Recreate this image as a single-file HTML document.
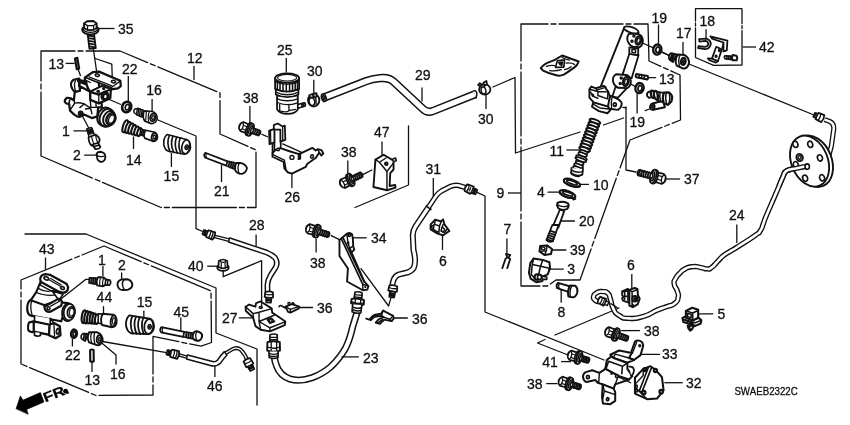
<!DOCTYPE html>
<html><head><meta charset="utf-8"><title>Clutch master cylinder diagram</title>
<style>
html,body{margin:0;padding:0;background:#fff;}
svg{display:block;}
svg *{vector-effect:non-scaling-stroke}
text{font-family:"Liberation Sans",sans-serif;fill:#111;stroke:#111;stroke-width:0.3px;}
</style></head><body>
<svg width="850" height="425" viewBox="0 0 850 425">
<defs><filter id="nf" x="0" y="0" width="850" height="425" filterUnits="userSpaceOnUse"><feOffset dx="0" dy="0"/></filter></defs>
<rect width="850" height="425" fill="#fff"/>
<polyline points="41,156 41,51 120,51 220,93 220,134 256,150 256,207.5 161,207.5 41,156" fill="none" stroke="#111" stroke-width="1.30" stroke-linejoin="round" stroke-linecap="round" stroke-dasharray="64 3 5 3"/>
<polyline points="158,120 196,136 196,228.6 204,232" fill="none" stroke="#111" stroke-width="1.30" stroke-linejoin="round" stroke-linecap="round"/>
<polyline points="25,234 86,234 216,288 216,333 257,349 257,405" fill="none" stroke="#111" stroke-width="1.30" stroke-linejoin="round" stroke-linecap="round"/>
<polyline points="21,364 21,280 104,246 211,291 211.5,342.5 201.1,346.2 153,336.4 153,395 96,395.5 21,364" fill="none" stroke="#111" stroke-width="1.30" stroke-linejoin="round" stroke-linecap="round" stroke-dasharray="64 3 5 3"/>
<polyline points="408.5,126 408.5,185 355,207.5" fill="none" stroke="#111" stroke-width="1.30" stroke-linejoin="round" stroke-linecap="round"/>
<polyline points="493,87 515,77.5 515.5,153 580,132" fill="none" stroke="#111" stroke-width="1.30" stroke-linejoin="round" stroke-linecap="round"/>
<polyline points="603.5,125 623.5,118" fill="none" stroke="#111" stroke-width="1.30" stroke-linejoin="round" stroke-linecap="round"/>
<polyline points="521,286 521,24 648,24 649,61 680,75 680.5,120 630,140 580,280 556,280 547.5,286 521,286" fill="none" stroke="#111" stroke-width="1.30" stroke-linejoin="round" stroke-linecap="round" stroke-dasharray="64 3 5 3"/>
<line x1="508" y1="193" x2="521" y2="193" stroke="#111" stroke-width="1.30"/>
<polyline points="626,107 626,170 636,172" fill="none" stroke="#111" stroke-width="1.30" stroke-linejoin="round" stroke-linecap="round"/>
<polyline points="695.5,8.7 742,8.7 742,65 713.6,65.3 695.5,57.5 695.5,8.7" fill="none" stroke="#111" stroke-width="1.30" stroke-linejoin="round" stroke-linecap="round" stroke-dasharray="61.5 2 3 2 111.9 2 3 2 30"/>
<line x1="742.7" y1="47" x2="756" y2="47" stroke="#111" stroke-width="1.30"/>
<line x1="689" y1="64" x2="814" y2="115" stroke="#111" stroke-width="1.30"/>
<polyline points="477,192.4 485,196 485,312 604,360" fill="none" stroke="#111" stroke-width="1.30" stroke-linejoin="round" stroke-linecap="round"/>
<polyline points="619,308 555,335" fill="none" stroke="#111" stroke-width="1.30" stroke-linejoin="round" stroke-linecap="round"/>
<polyline points="545,339.5 537.5,343 568,355" fill="none" stroke="#111" stroke-width="1.30" stroke-linejoin="round" stroke-linecap="round"/>
<g transform="translate(90.2,20.6)">
<polygon points="-2.6,13 3.8,13 5.6,27.6 -0.8,28.2" fill="#fff" stroke="#111" stroke-width="1.77" stroke-linejoin="round" stroke-linecap="round"/>
<line x1="-2.5119999999999996" y1="14.9" x2="4.288" y2="15.9" stroke="#111" stroke-width="1.77"/>
<line x1="-2.1879999999999997" y1="17.6" x2="4.612" y2="18.6" stroke="#111" stroke-width="1.77"/>
<line x1="-1.8639999999999999" y1="20.3" x2="4.936" y2="21.3" stroke="#111" stroke-width="1.77"/>
<line x1="-1.5399999999999998" y1="23.0" x2="5.26" y2="24.0" stroke="#111" stroke-width="1.77"/>
<line x1="-1.2159999999999995" y1="25.700000000000003" x2="5.5840000000000005" y2="26.700000000000003" stroke="#111" stroke-width="1.77"/>
<ellipse cx="0.2" cy="9.2" rx="8.3" ry="4.6" fill="#fff" stroke="#111" stroke-width="1.89" transform="rotate(0 0.2 9.2)"/>
<ellipse cx="0.2" cy="8.2" rx="7.2" ry="3.6" fill="#fff" stroke="#111" stroke-width="1.30" transform="rotate(0 0.2 8.2)"/>
<path d="M-6,7.6 L-6.2,3 L-3,0.6 L3.2,0.4 L6.4,2.8 L6.4,7.6 Q0.2,11.6 -6,7.6 Z" fill="#fff" stroke="#111" stroke-width="1.89" stroke-linejoin="round" stroke-linecap="round" />
<path d="M-6.2,3 L-2.6,5 L3.4,5 L6.4,2.8 M-2.6,5 L-2.8,9.6 M3.4,5 L3.4,9.6" fill="none" stroke="#111" stroke-width="1.30" stroke-linejoin="round" stroke-linecap="round" />
</g>
<line x1="98.8" y1="28.5" x2="114.5" y2="28.5" stroke="#111" stroke-width="1.30"/>
<polyline points="93.2,48 97,74" fill="none" stroke="#111" stroke-width="1.30" stroke-linejoin="round" stroke-linecap="round"/>
<polyline points="95.3,58.5 111.8,64.2 112.3,79" fill="none" stroke="#111" stroke-width="1.30" stroke-linejoin="round" stroke-linecap="round"/>
<path d="M74.9,58.5 L77.4,57.8 L79.2,68.6 L76.7,69.3 Z" fill="#777" stroke="#111" stroke-width="2.01" stroke-linejoin="round" stroke-linecap="round" />
<line x1="65.7" y1="63.4" x2="74.7" y2="63.4" stroke="#111" stroke-width="1.30"/>
<line x1="78" y1="69" x2="80.6" y2="76" stroke="#111" stroke-width="1.30"/>
<g transform="translate(55,65) scale(0.14113)">
<ellipse cx="352" cy="366" rx="50" ry="66" fill="#fff" stroke="#111" stroke-width="2.01" transform="rotate(22 352 366)"/>
<ellipse cx="368" cy="374" rx="50" ry="65" fill="#fff" stroke="#111" stroke-width="2.01" transform="rotate(22 368 374)"/>
<ellipse cx="384" cy="380" rx="41" ry="55" fill="#fff" stroke="#111" stroke-width="2.01" transform="rotate(22 384 380)"/>
<ellipse cx="396" cy="383" rx="30" ry="42" fill="#fff" stroke="#111" stroke-width="2.48" transform="rotate(22 396 383)"/>
<ellipse cx="400" cy="384" rx="19" ry="30" fill="#fff" stroke="#111" stroke-width="1.30" transform="rotate(22 400 384)"/>
<path d="M140,190 L134,250 L112,236 L86,232 Q66,244 70,262 Q78,278 100,274 L106,322 Q130,350 156,364 Q184,374 206,350 L262,376 L300,364 L306,300 L332,300 L330,270 L250,246 L250,190 L176,150 L176,182 Z" fill="#fff" stroke="#111" stroke-width="2.24" stroke-linejoin="round" stroke-linecap="round" />
<path d="M112,236 Q98,254 100,274 M134,250 L140,270 L106,322 M140,270 Q170,262 206,276 M250,246 L254,300 L306,300 M290,272 L292,300" fill="none" stroke="#111" stroke-width="1.42" stroke-linejoin="round" stroke-linecap="round" />
<path d="M176,302 L206,276 L252,306 L262,346 M216,312 L252,306" fill="none" stroke="#111" stroke-width="1.42" stroke-linejoin="round" stroke-linecap="round" />
<ellipse cx="182" cy="343" rx="14" ry="14" fill="#fff" stroke="#111" stroke-width="1.89" transform="rotate(0 182 343)"/>
<ellipse cx="182" cy="343" rx="6" ry="6" fill="#fff" stroke="#111" stroke-width="1.30" transform="rotate(0 182 343)"/>
<path d="M172,96 L132,104 Q110,120 114,146 Q120,176 142,190 L176,182 Z" fill="#fff" stroke="#111" stroke-width="2.12" stroke-linejoin="round" stroke-linecap="round" />
<path d="M146,108 Q130,140 146,186" fill="none" stroke="#111" stroke-width="1.30" stroke-linejoin="round" stroke-linecap="round" />
<path d="M213,88 L270,50 L312,47 L463,112 L466,150 L446,166 L396,172 L330,150 L250,190 L236,170 L210,106 Z" fill="#fff" stroke="#111" stroke-width="2.24" stroke-linejoin="round" stroke-linecap="round" />
<path d="M213,88 L330,136 L400,160 L463,114 M210,104 L250,124" fill="none" stroke="#111" stroke-width="1.30" stroke-linejoin="round" stroke-linecap="round" />
<path d="M226,92 L392,156 M240,84 L404,148" fill="none" stroke="#111" stroke-width="1.18" stroke-linejoin="round" stroke-linecap="round" />
<path d="M170,112 L216,128" fill="none" stroke="#111" stroke-width="4.25" stroke-linejoin="round" stroke-linecap="round" />
<path d="M170,112 L168,150" fill="none" stroke="#111" stroke-width="1.53" stroke-linejoin="round" stroke-linecap="round" />
<ellipse cx="300" cy="72" rx="15" ry="9" fill="#fff" stroke="#111" stroke-width="1.53" transform="rotate(8 300 72)"/>
<ellipse cx="415" cy="118" rx="15" ry="9" fill="#fff" stroke="#111" stroke-width="1.53" transform="rotate(8 415 118)"/>
<path d="M310,124 L314,168" fill="none" stroke="#111" stroke-width="2.24" stroke-linejoin="round" stroke-linecap="round" />
<ellipse cx="306" cy="186" rx="7" ry="6" fill="#fff" stroke="#111" stroke-width="1.53" transform="rotate(0 306 186)"/>
<ellipse cx="345" cy="166" rx="6" ry="5" fill="#fff" stroke="#111" stroke-width="1.53" transform="rotate(0 345 166)"/>
<path d="M250,190 L310,210 L396,170 L392,236 L310,272 L250,246 Z" fill="#fff" stroke="#111" stroke-width="2.24" stroke-linejoin="round" stroke-linecap="round" />
<path d="M250,190 L330,150 L396,170" fill="#fff" stroke="#111" stroke-width="1.77" stroke-linejoin="round" stroke-linecap="round" />
<path d="M310,210 L310,272" fill="none" stroke="#111" stroke-width="1.30" stroke-linejoin="round" stroke-linecap="round" />
<ellipse cx="306" cy="186" rx="7" ry="6" fill="#fff" stroke="#111" stroke-width="1.53" transform="rotate(0 306 186)"/>
<ellipse cx="345" cy="168" rx="6" ry="5" fill="#fff" stroke="#111" stroke-width="1.53" transform="rotate(0 345 168)"/>
<ellipse cx="355" cy="222" rx="26" ry="29" fill="#fff" stroke="#111" stroke-width="1.89" transform="rotate(20 355 222)"/>
<ellipse cx="357" cy="223" rx="16" ry="19" fill="#fff" stroke="#111" stroke-width="2.12" transform="rotate(20 357 223)"/>
</g>
<line x1="128.3" y1="76" x2="128.3" y2="101" stroke="#111" stroke-width="1.30"/>
<line x1="108" y1="99" x2="121" y2="104.5" stroke="#111" stroke-width="1.30"/>
<ellipse cx="126.7" cy="107" rx="4.5" ry="5.3" fill="#fff" stroke="#111" stroke-width="2.60" transform="rotate(20 126.7 107)"/>
<ellipse cx="127.3" cy="107.2" rx="2.0" ry="2.8" fill="#fff" stroke="#111" stroke-width="1.65" transform="rotate(20 127.3 107.2)"/>
<g transform="translate(120,95) scale(0.16462)">
<path d="M92,84 Q80,92 86,108 L104,120 L112,84 Z" fill="#fff" stroke="#111" stroke-width="1.42" stroke-linejoin="round" stroke-linecap="round" />
<path d="M106,80 L142,92 L136,134 L100,120 Z" fill="#fff" stroke="#111" stroke-width="1.42" stroke-linejoin="round" stroke-linecap="round" />
<path d="M114,84 L108,122 M124,86 L118,128 M134,90 L128,132" fill="none" stroke="#111" stroke-width="1.42" stroke-linejoin="round" stroke-linecap="round" />
<path d="M146,96 L196,100 Q228,112 226,146 Q214,176 190,174 L152,160 Q134,140 146,96 Z" fill="#fff" stroke="#111" stroke-width="1.65" stroke-linejoin="round" stroke-linecap="round" />
<path d="M160,100 L156,160 M178,100 Q166,130 176,168" fill="none" stroke="#111" stroke-width="1.18" stroke-linejoin="round" stroke-linecap="round" />
<ellipse cx="200" cy="136" rx="17" ry="23" fill="#fff" stroke="#111" stroke-width="1.77" transform="rotate(15 200 136)"/>
<ellipse cx="201" cy="137" rx="8" ry="12" fill="#fff" stroke="#111" stroke-width="1.42" transform="rotate(15 201 137)"/>
<ellipse cx="32" cy="190" rx="14.0" ry="38.0" fill="#fff" stroke="#111" stroke-width="2.01" transform="rotate(18 32 190)"/>
<ellipse cx="49" cy="197" rx="13.4" ry="35.5" fill="#fff" stroke="#111" stroke-width="2.01" transform="rotate(18 49 197)"/>
<ellipse cx="66" cy="204" rx="12.8" ry="33.0" fill="#fff" stroke="#111" stroke-width="2.01" transform="rotate(18 66 204)"/>
<ellipse cx="83" cy="211" rx="12.2" ry="30.5" fill="#fff" stroke="#111" stroke-width="2.01" transform="rotate(18 83 211)"/>
<ellipse cx="100" cy="218" rx="11.6" ry="28.0" fill="#fff" stroke="#111" stroke-width="2.01" transform="rotate(18 100 218)"/>
<ellipse cx="117" cy="225" rx="11.0" ry="25.5" fill="#fff" stroke="#111" stroke-width="2.01" transform="rotate(18 117 225)"/>
<path d="M126,206 L152,214 L148,250 L122,240 Z" fill="#fff" stroke="#111" stroke-width="1.42" stroke-linejoin="round" stroke-linecap="round" />
<path d="M134,210 L130,244 M143,212 L139,248" fill="none" stroke="#111" stroke-width="1.42" stroke-linejoin="round" stroke-linecap="round" />
<path d="M156,214 L212,226 Q232,240 226,268 Q214,286 196,280 L150,262 Q140,240 156,214 Z" fill="#fff" stroke="#111" stroke-width="1.65" stroke-linejoin="round" stroke-linecap="round" />
<ellipse cx="207" cy="254" rx="15" ry="24" fill="#fff" stroke="#111" stroke-width="1.77" transform="rotate(15 207 254)"/>
<ellipse cx="208" cy="255" rx="7" ry="12" fill="#fff" stroke="#111" stroke-width="1.30" transform="rotate(15 208 255)"/>
<path d="M286,240 Q262,262 266,300 Q272,336 296,342 L392,360 Q424,352 428,318 Q428,280 404,270 Z" fill="#fff" stroke="#111" stroke-width="1.65" stroke-linejoin="round" stroke-linecap="round" />
<path d="M300,246 Q280,290 304,344 M322,250 Q302,296 326,348 M344,256 Q326,300 348,352 M366,260 Q348,306 370,356" fill="none" stroke="#111" stroke-width="1.65" stroke-linejoin="round" stroke-linecap="round" />
<ellipse cx="400" cy="315" rx="24" ry="42" fill="#fff" stroke="#111" stroke-width="1.65" transform="rotate(10 400 315)"/>
<ellipse cx="405" cy="317" rx="10" ry="14" fill="#fff" stroke="#111" stroke-width="1.42" transform="rotate(10 405 317)"/>
<ellipse cx="405" cy="317" rx="4" ry="6" fill="#fff" stroke="#111" stroke-width="1.18" transform="rotate(10 405 317)"/>
</g>
<line x1="152.1" y1="99" x2="152.1" y2="111.5" stroke="#111" stroke-width="1.30"/>
<line x1="133.5" y1="136.5" x2="133.5" y2="149" stroke="#111" stroke-width="1.30"/>
<line x1="171.4" y1="153" x2="171.4" y2="167" stroke="#111" stroke-width="1.30"/>
<g transform="translate(55,105) scale(0.16462)">
<path d="M160,55 L205,140" fill="none" stroke="#111" stroke-width="1.30" stroke-linejoin="round" stroke-linecap="round" />
<path d="M192,146 L222,136 L240,186 L208,196 Z" fill="#fff" stroke="#111" stroke-width="1.42" stroke-linejoin="round" stroke-linecap="round" />
<path d="M196,156 L226,146 M200,166 L230,156 M204,176 L234,168" fill="none" stroke="#111" stroke-width="1.89" stroke-linejoin="round" stroke-linecap="round" />
<path d="M204,196 L246,180 Q268,192 272,214 L262,236 L222,246 Q204,230 204,196 Z" fill="#fff" stroke="#111" stroke-width="1.77" stroke-linejoin="round" stroke-linecap="round" />
<path d="M222,192 Q226,220 240,240 M246,182 Q250,210 262,234" fill="none" stroke="#111" stroke-width="1.18" stroke-linejoin="round" stroke-linecap="round" />
<path d="M226,240 L262,230 L276,256 Q268,270 246,268 Z" fill="#fff" stroke="#111" stroke-width="1.77" stroke-linejoin="round" stroke-linecap="round" />
<path d="M234,252 L270,244" fill="none" stroke="#111" stroke-width="1.65" stroke-linejoin="round" stroke-linecap="round" />
<path d="M115,157 L190,157" fill="none" stroke="#111" stroke-width="1.30" stroke-linejoin="round" stroke-linecap="round" />
<path d="M252,300 Q256,284 280,284 Q304,288 306,312 Q306,340 286,346 Q266,346 258,330 Z" fill="#fff" stroke="#111" stroke-width="1.77" stroke-linejoin="round" stroke-linecap="round" />
<path d="M252,300 Q262,318 290,312 Q304,310 306,312" fill="none" stroke="#111" stroke-width="1.18" stroke-linejoin="round" stroke-linecap="round" />
<path d="M180,305 L250,305" fill="none" stroke="#111" stroke-width="1.30" stroke-linejoin="round" stroke-linecap="round" />
</g>
<g transform="translate(250.6,129.8) rotate(21) scale(1.0)">
<path d="M-2.6,-4.4 L-9.6,-4.7 Q-12.4,-2.4 -12,0.6 Q-11.4,3.8 -9,4.8 L-2.4,4.4 Z" fill="#fff" stroke="#111" stroke-width="1.77" stroke-linejoin="round" stroke-linecap="round" />
<path d="M-9.8,-1.7 L-3.4,-1.4 M-9.6,2.0 L-3.3,2.1" fill="none" stroke="#111" stroke-width="1.18" stroke-linejoin="round" stroke-linecap="round" />
<ellipse cx="-9.9" cy="0.1" rx="1.7" ry="3.7" fill="#fff" stroke="#111" stroke-width="1.30" transform="rotate(0 -9.9 0.1)"/>
<ellipse cx="-1.7" cy="0" rx="2.7" ry="6.5" fill="#fff" stroke="#111" stroke-width="1.77" transform="rotate(0 -1.7 0)"/>
<ellipse cx="-0.2" cy="0" rx="2.7" ry="6.5" fill="#fff" stroke="#111" stroke-width="1.77" transform="rotate(0 -0.2 0)"/>
<ellipse cx="0.4" cy="0" rx="1.7" ry="4.3" fill="#fff" stroke="#111" stroke-width="1.53" transform="rotate(0 0.4 0)"/>
<path d="M0.8,-2.5 L9.6,-2.5 Q11.2,0 9.6,2.5 L0.8,2.5 Q-0.4,0 0.8,-2.5 Z" fill="#fff" stroke="#111" stroke-width="1.65" stroke-linejoin="round" stroke-linecap="round" />
<path d="M2.1,-2.7 Q3.6,0 2.1,2.7" fill="none" stroke="#111" stroke-width="1.77" stroke-linejoin="round" stroke-linecap="round" />
<path d="M4.166666666666666,-2.7 Q5.666666666666666,0 4.166666666666666,2.7" fill="none" stroke="#111" stroke-width="1.77" stroke-linejoin="round" stroke-linecap="round" />
<path d="M6.2333333333333325,-2.7 Q7.7333333333333325,0 6.2333333333333325,2.7" fill="none" stroke="#111" stroke-width="1.77" stroke-linejoin="round" stroke-linecap="round" />
<path d="M8.299999999999999,-2.7 Q9.799999999999999,0 8.299999999999999,2.7" fill="none" stroke="#111" stroke-width="1.77" stroke-linejoin="round" stroke-linecap="round" />
</g>
<line x1="249.9" y1="106" x2="249.9" y2="123" stroke="#111" stroke-width="1.30"/>
<line x1="261.5" y1="134.2" x2="268" y2="137" stroke="#111" stroke-width="1.30"/>
<g transform="translate(196,110) scale(0.16462)">
<path d="M56,260 L192,312 L184,338 L54,288 Q44,272 56,260 Z" fill="#fff" stroke="#111" stroke-width="1.65" stroke-linejoin="round" stroke-linecap="round" />
<path d="M64,264 Q56,276 64,290" fill="none" stroke="#111" stroke-width="1.18" stroke-linejoin="round" stroke-linecap="round" />
<path d="M192,312 L240,322 L232,358 L184,338 Z" fill="#fff" stroke="#111" stroke-width="1.53" stroke-linejoin="round" stroke-linecap="round" />
<path d="M204,314 L198,344 M216,316 L210,350 M228,320 L222,354" fill="none" stroke="#111" stroke-width="1.77" stroke-linejoin="round" stroke-linecap="round" />
<path d="M246,322 Q232,340 238,366 Q252,390 280,388 Q306,380 310,352 Q300,326 272,322 Z" fill="#fff" stroke="#111" stroke-width="1.77" stroke-linejoin="round" stroke-linecap="round" />
<path d="M262,324 Q248,350 262,386" fill="none" stroke="#111" stroke-width="1.30" stroke-linejoin="round" stroke-linecap="round" />
</g>
<line x1="221.5" y1="165" x2="221.5" y2="182" stroke="#111" stroke-width="1.30"/>
<line x1="194" y1="66" x2="194" y2="80" stroke="#111" stroke-width="1.30"/>
<g transform="translate(20,262) scale(0.16462)">
<path d="M62,232 Q42,248 44,290 Q48,320 66,326 L250,360 L290,250 L200,240 Z" fill="#fff" stroke="#111" stroke-width="2.24" stroke-linejoin="round" stroke-linecap="round" />
<path d="M72,236 Q58,270 74,326" fill="none" stroke="#111" stroke-width="1.30" stroke-linejoin="round" stroke-linecap="round" />
<path d="M126,118 L98,184 L66,232 L150,262 L240,232 L226,180 L204,160 Z" fill="#fff" stroke="#111" stroke-width="2.12" stroke-linejoin="round" stroke-linecap="round" />
<path d="M98,184 Q150,210 226,200 M110,160 Q160,190 210,170" fill="none" stroke="#111" stroke-width="1.30" stroke-linejoin="round" stroke-linecap="round" />
<path d="M124,96 Q130,76 156,74 L182,78 L284,134 Q296,150 290,168 Q280,188 258,186 L236,180 L128,122 Q120,110 124,96 Z" fill="#fff" stroke="#111" stroke-width="2.24" stroke-linejoin="round" stroke-linecap="round" />
<path d="M128,122 L124,140 L230,196 L258,186" fill="none" stroke="#111" stroke-width="1.42" stroke-linejoin="round" stroke-linecap="round" />
<ellipse cx="160" cy="100" rx="15" ry="9" fill="#fff" stroke="#111" stroke-width="1.65" transform="rotate(25 160 100)"/>
<ellipse cx="258" cy="158" rx="12" ry="8" fill="#fff" stroke="#111" stroke-width="1.65" transform="rotate(25 258 158)"/>
<path d="M176,108 L244,146 M186,100 L250,138" fill="none" stroke="#111" stroke-width="1.18" stroke-linejoin="round" stroke-linecap="round" />
<path d="M196,176 L236,232 L262,196 Z" fill="#fff" stroke="#111" stroke-width="1.53" stroke-linejoin="round" stroke-linecap="round" />
<path d="M148,272 L232,224 Q256,226 254,250 L250,266 L184,302 Q152,306 148,272 Z" fill="#fff" stroke="#111" stroke-width="2.24" stroke-linejoin="round" stroke-linecap="round" />
<ellipse cx="173" cy="281" rx="9" ry="9" fill="#fff" stroke="#111" stroke-width="1.65" transform="rotate(0 173 281)"/>
<path d="M186,268 L240,238" fill="none" stroke="#111" stroke-width="1.18" stroke-linejoin="round" stroke-linecap="round" />
<ellipse cx="292" cy="305" rx="36" ry="54" fill="#fff" stroke="#111" stroke-width="1.89" transform="rotate(8 292 305)"/>
<ellipse cx="300" cy="305" rx="34" ry="50" fill="#fff" stroke="#111" stroke-width="1.65" transform="rotate(8 300 305)"/>
<ellipse cx="310" cy="305" rx="22" ry="33" fill="#fff" stroke="#111" stroke-width="1.77" transform="rotate(8 310 305)"/>
<ellipse cx="314" cy="305" rx="14" ry="24" fill="#fff" stroke="#111" stroke-width="1.18" transform="rotate(8 314 305)"/>
</g>
<g transform="translate(20,300) scale(0.16462)">
<path d="M88,96 L88,132 L184,152 L184,112" fill="#fff" stroke="#111" stroke-width="1.65" stroke-linejoin="round" stroke-linecap="round" />
<path d="M56,136 Q46,150 50,182 Q56,198 84,194 L84,130 Z" fill="#fff" stroke="#111" stroke-width="2.12" stroke-linejoin="round" stroke-linecap="round" />
<path d="M84,130 L180,150 L180,212 L84,192 Z" fill="#fff" stroke="#111" stroke-width="2.12" stroke-linejoin="round" stroke-linecap="round" />
<path d="M88,194 L88,214 Q104,224 124,216 L124,200" fill="#fff" stroke="#111" stroke-width="1.65" stroke-linejoin="round" stroke-linecap="round" />
<path d="M180,150 L206,140 L242,160 L246,214 L216,232 L176,214 Z" fill="#fff" stroke="#111" stroke-width="2.24" stroke-linejoin="round" stroke-linecap="round" />
<path d="M206,140 L210,228" fill="none" stroke="#111" stroke-width="1.30" stroke-linejoin="round" stroke-linecap="round" />
<ellipse cx="230" cy="190" rx="9" ry="17" fill="#fff" stroke="#111" stroke-width="1.77" transform="rotate(8 230 190)"/>
<path d="M184,112 L206,140" fill="none" stroke="#111" stroke-width="1.42" stroke-linejoin="round" stroke-linecap="round" />
<ellipse cx="328" cy="205" rx="17" ry="25" fill="#fff" stroke="#111" stroke-width="2.60" transform="rotate(8 328 205)"/>
<ellipse cx="330" cy="206" rx="8" ry="14" fill="#fff" stroke="#111" stroke-width="1.65" transform="rotate(8 330 206)"/>
<path d="M382,204 Q366,214 374,236 L396,250 L414,206 Z" fill="#fff" stroke="#111" stroke-width="1.65" stroke-linejoin="round" stroke-linecap="round" />
<path d="M392,204 L384,240 M402,204 L394,246" fill="none" stroke="#111" stroke-width="1.53" stroke-linejoin="round" stroke-linecap="round" />
<path d="M420,196 L470,196 Q504,210 502,248 Q490,278 466,274 L420,258 Q404,230 420,196 Z" fill="#fff" stroke="#111" stroke-width="1.89" stroke-linejoin="round" stroke-linecap="round" />
<path d="M436,196 Q424,226 436,264 M454,196 Q444,230 456,270" fill="none" stroke="#111" stroke-width="1.30" stroke-linejoin="round" stroke-linecap="round" />
<ellipse cx="480" cy="238" rx="14" ry="24" fill="#fff" stroke="#111" stroke-width="1.77" transform="rotate(10 480 238)"/>
<ellipse cx="481" cy="239" rx="6" ry="11" fill="#fff" stroke="#111" stroke-width="1.30" transform="rotate(10 481 239)"/>
<path d="M426,304 Q436,298 447,304 L448,372 Q437,378 427,372 Z" fill="#fff" stroke="#111" stroke-width="2.12" stroke-linejoin="round" stroke-linecap="round" />
</g>
<line x1="72.4" y1="338.8" x2="72.4" y2="346.5" stroke="#111" stroke-width="1.30"/>
<line x1="92" y1="362" x2="92" y2="372" stroke="#111" stroke-width="1.30"/>
<polyline points="102.6,341.5 168,352.8" fill="none" stroke="#111" stroke-width="1.30" stroke-linejoin="round" stroke-linecap="round"/>
<polyline points="102.4,343.6 116,355 116,364" fill="none" stroke="#111" stroke-width="1.30" stroke-linejoin="round" stroke-linecap="round"/>
<polyline points="58.7,300.7 85.9,279.3 89.2,279.3" fill="none" stroke="#111" stroke-width="1.30" stroke-linejoin="round" stroke-linecap="round"/>
<g transform="translate(89.2,280.4) rotate(6)">
<path d="M0,-2.6 L8,-3 L8,3 L0,2.6 Z" fill="#fff" stroke="#111" stroke-width="1.65" stroke-linejoin="round" stroke-linecap="round" />
<path d="M2,-2.8 L2,2.8 M4,-2.9 L4,2.9 M6,-3 L6,3" fill="none" stroke="#111" stroke-width="1.77" stroke-linejoin="round" stroke-linecap="round" />
<path d="M8.4,-4.2 L14,-4.6 Q17,-3 17.4,0 Q17,3.6 14,4.6 L8.4,4.2 Q6.6,0 8.4,-4.2 Z" fill="#fff" stroke="#111" stroke-width="1.77" stroke-linejoin="round" stroke-linecap="round" />
<path d="M11,-4.4 Q10,0 11,4.4 M14,-4.6 Q13,0 14,4.6" fill="none" stroke="#111" stroke-width="1.18" stroke-linejoin="round" stroke-linecap="round" />
<path d="M16.4,-2.8 L20.6,-2.4 Q22.6,0 20.6,2.6 L16.4,3 Z" fill="#fff" stroke="#111" stroke-width="1.65" stroke-linejoin="round" stroke-linecap="round" />
<path d="M18.6,-2.6 L18.6,2.8" fill="none" stroke="#111" stroke-width="1.42" stroke-linejoin="round" stroke-linecap="round" />
</g>
<line x1="102.9" y1="266" x2="102.9" y2="276" stroke="#111" stroke-width="1.30"/>
<line x1="45.5" y1="257.5" x2="45.5" y2="269.6" stroke="#111" stroke-width="1.30"/>
<g transform="translate(78,268) scale(0.16462)">
<path d="M262,70 Q238,78 240,104 Q246,134 272,134 L304,132 Q330,122 330,100 Q326,72 298,68 Z" fill="#fff" stroke="#111" stroke-width="1.89" stroke-linejoin="round" stroke-linecap="round" />
<path d="M280,72 Q258,96 282,132" fill="none" stroke="#111" stroke-width="1.42" stroke-linejoin="round" stroke-linecap="round" />
<path d="M265,30 L265,66" fill="none" stroke="#111" stroke-width="1.30" stroke-linejoin="round" stroke-linecap="round" />
<ellipse cx="36" cy="296" rx="13" ry="40.0" fill="#fff" stroke="#111" stroke-width="2.12" transform="rotate(8 36 296)"/>
<ellipse cx="52" cy="299" rx="13" ry="37.8" fill="#fff" stroke="#111" stroke-width="2.12" transform="rotate(8 52 299)"/>
<ellipse cx="68" cy="302" rx="13" ry="35.6" fill="#fff" stroke="#111" stroke-width="2.12" transform="rotate(8 68 302)"/>
<ellipse cx="84" cy="305" rx="13" ry="33.4" fill="#fff" stroke="#111" stroke-width="2.12" transform="rotate(8 84 305)"/>
<ellipse cx="100" cy="308" rx="13" ry="31.2" fill="#fff" stroke="#111" stroke-width="2.12" transform="rotate(8 100 308)"/>
<ellipse cx="116" cy="311" rx="13" ry="29.0" fill="#fff" stroke="#111" stroke-width="2.12" transform="rotate(8 116 311)"/>
<path d="M124,278 L150,280 L146,340 L122,334 Z" fill="#fff" stroke="#111" stroke-width="1.53" stroke-linejoin="round" stroke-linecap="round" />
<path d="M150,278 L214,284 Q240,300 234,336 Q226,360 206,360 L146,346 Q132,312 150,278 Z" fill="#fff" stroke="#111" stroke-width="1.89" stroke-linejoin="round" stroke-linecap="round" />
<ellipse cx="215" cy="321" rx="16" ry="34" fill="#fff" stroke="#111" stroke-width="1.89" transform="rotate(8 215 321)"/>
<ellipse cx="217" cy="322" rx="8" ry="20" fill="#fff" stroke="#111" stroke-width="1.18" transform="rotate(8 217 322)"/>
<path d="M155,235 L155,278" fill="none" stroke="#111" stroke-width="1.30" stroke-linejoin="round" stroke-linecap="round" />
<path d="M312,288 Q288,310 292,350 Q298,386 322,396 L428,402 Q458,392 462,356 Q460,318 436,308 Z" fill="#fff" stroke="#111" stroke-width="1.89" stroke-linejoin="round" stroke-linecap="round" />
<path d="M330,292 Q308,340 334,398 M352,296 Q332,344 356,400 M374,300 Q354,348 378,402 M396,304 Q378,350 400,402" fill="none" stroke="#111" stroke-width="1.77" stroke-linejoin="round" stroke-linecap="round" />
<ellipse cx="430" cy="355" rx="27" ry="45" fill="#fff" stroke="#111" stroke-width="1.77" transform="rotate(6 430 355)"/>
<ellipse cx="435" cy="357" rx="10" ry="14" fill="#fff" stroke="#111" stroke-width="1.53" transform="rotate(6 435 357)"/>
<ellipse cx="435" cy="357" rx="4" ry="6" fill="#fff" stroke="#111" stroke-width="1.18" transform="rotate(6 435 357)"/>
<path d="M400,262 L400,302" fill="none" stroke="#111" stroke-width="1.30" stroke-linejoin="round" stroke-linecap="round" />
</g>
<g transform="translate(155,318) scale(0.18838)">
<path d="M34,48 L156,74 L150,100 L32,76 Q22,62 34,48 Z" fill="#fff" stroke="#111" stroke-width="1.77" stroke-linejoin="round" stroke-linecap="round" />
<path d="M42,50 Q34,62 42,78" fill="none" stroke="#111" stroke-width="1.18" stroke-linejoin="round" stroke-linecap="round" />
<path d="M156,74 L202,80 L198,110 L150,100 Z" fill="#fff" stroke="#111" stroke-width="1.53" stroke-linejoin="round" stroke-linecap="round" />
<path d="M168,76 L164,102 M180,78 L176,106 M192,80 L188,108" fill="none" stroke="#111" stroke-width="1.89" stroke-linejoin="round" stroke-linecap="round" />
<path d="M210,72 Q196,88 202,110 Q216,124 236,120 Q252,108 250,88 Q240,72 222,70 Z" fill="#fff" stroke="#111" stroke-width="1.89" stroke-linejoin="round" stroke-linecap="round" />
<path d="M222,72 Q210,94 222,120" fill="none" stroke="#111" stroke-width="1.30" stroke-linejoin="round" stroke-linecap="round" />
<path d="M137,0 L137,66" fill="none" stroke="#111" stroke-width="1.30" stroke-linejoin="round" stroke-linecap="round" />
</g>
<path d="M178.5,354.7 L187.5,357.4" fill="none" stroke="#111" stroke-width="3.55" stroke-linejoin="round" stroke-linecap="butt"/>
<path d="M178.5,354.7 L187.5,357.4" fill="none" stroke="#fff" stroke-width="0.8999999999999999" stroke-linejoin="round" stroke-linecap="butt"/>
<path d="M224.8,353.8 L232,349.4 Q237,346.6 241,350 Q245,354 247.6,361" fill="none" stroke="#111" stroke-width="3.9499999999999997" stroke-linejoin="round" stroke-linecap="butt"/>
<path d="M224.8,353.8 L232,349.4 Q237,346.6 241,350 Q245,354 247.6,361" fill="none" stroke="#fff" stroke-width="1.2" stroke-linejoin="round" stroke-linecap="butt"/>
<path d="M187,357 L211,363.4 Q216,364.8 219,361.6 Q222.4,356.6 225.6,353.4" fill="none" stroke="#111" stroke-width="5.75" stroke-linejoin="round" stroke-linecap="butt"/>
<path d="M187,357 L211,363.4 Q216,364.8 219,361.6 Q222.4,356.6 225.6,353.4" fill="none" stroke="#fff" stroke-width="2.8000000000000003" stroke-linejoin="round" stroke-linecap="butt"/>
<line x1="187.4" y1="354.4" x2="186.6" y2="359.6" stroke="#111" stroke-width="1.42"/>
<line x1="224" y1="351.2" x2="227" y2="355.6" stroke="#111" stroke-width="1.42"/>
<g transform="translate(174.6,354.2) rotate(14)">
<path d="M-3.6,-3.7 L3.6,-4 Q5.2,0 3.6,4 L-3.6,3.7 Q-5.2,0 -3.6,-3.7 Z" fill="#fff" stroke="#111" stroke-width="1.77" stroke-linejoin="round" stroke-linecap="round" />
<path d="M-1,-3.8 Q0.2,0 -1,3.8 M1.6,-3.9 Q2.8,0 1.6,3.9" fill="none" stroke="#111" stroke-width="1.30" stroke-linejoin="round" stroke-linecap="round" />
<path d="M-8,-2.3 L-4,-2.4 L-4,2.4 L-8,2.3 Z" fill="#fff" stroke="#111" stroke-width="1.53" stroke-linejoin="round" stroke-linecap="round" />
<path d="M-6.6,-2.4 L-6.6,2.4 M-5.2,-2.4 L-5.2,2.4" fill="none" stroke="#111" stroke-width="1.65" stroke-linejoin="round" stroke-linecap="round" />
</g>
<g transform="translate(248.6,363) rotate(62)">
<path d="M-3.6,-3.7 L2.6,-4 Q4.2,0 2.6,4 L-3.6,3.7 Q-5.2,0 -3.6,-3.7 Z" fill="#fff" stroke="#111" stroke-width="1.77" stroke-linejoin="round" stroke-linecap="round" />
<path d="M-1,-3.8 Q0.2,0 -1,3.8" fill="none" stroke="#111" stroke-width="1.30" stroke-linejoin="round" stroke-linecap="round" />
<path d="M3,-2.5 L8,-2.3 L8,2.3 L3,2.5 Z" fill="#fff" stroke="#111" stroke-width="1.53" stroke-linejoin="round" stroke-linecap="round" />
<path d="M4.6,-2.5 L4.6,2.5 M6.2,-2.4 L6.2,2.4" fill="none" stroke="#111" stroke-width="1.65" stroke-linejoin="round" stroke-linecap="round" />
</g>
<line x1="214.9" y1="366" x2="214.9" y2="377" stroke="#111" stroke-width="1.30"/>
<path d="M16.2,408.5 L20.4,396 L22.9,400.2 L40.4,392.6 L43.9,402 L26.6,409.4 L28,413.9 Z" fill="#000" stroke="#000" stroke-width="0.71" stroke-linejoin="round" stroke-linecap="round" />
<g filter="url(#nf)"><text transform="translate(45.2,402.4) rotate(-21) scale(1.22,1)" font-size="13.6" font-weight="bold" stroke="#000" stroke-width="0.9" style="fill:#000">FR.</text></g>
<circle cx="65.6" cy="391.2" r="2.4" fill="#000"/>
<line x1="286.3" y1="58" x2="286.3" y2="72.5" stroke="#111" stroke-width="1.30"/>
<g transform="translate(255,55) scale(0.16462)">
<path d="M248,304 L300,290 Q310,298 304,310 L252,326 Z" fill="#fff" stroke="#111" stroke-width="1.65" stroke-linejoin="round" stroke-linecap="round" />
<path d="M282,296 L288,314 M292,293 L298,311" fill="none" stroke="#111" stroke-width="1.65" stroke-linejoin="round" stroke-linecap="round" />
<path d="M134,246 L134,330 Q150,358 198,358 Q246,356 260,330 L260,246 Z" fill="#fff" stroke="#111" stroke-width="1.77" stroke-linejoin="round" stroke-linecap="round" />
<path d="M134,266 Q196,290 260,266 M140,290 Q196,312 254,292 M206,300 L206,338 M150,300 L150,340 Q196,352 206,338 L246,330" fill="none" stroke="#111" stroke-width="1.30" stroke-linejoin="round" stroke-linecap="round" />
<path d="M126,212 L126,240 Q196,272 264,240 L264,212 Z" fill="#fff" stroke="#111" stroke-width="1.65" stroke-linejoin="round" stroke-linecap="round" />
<path d="M126,226 Q196,258 264,226" fill="none" stroke="#111" stroke-width="1.42" stroke-linejoin="round" stroke-linecap="round" />
<path d="M122,140 L122,206 Q196,240 268,206 L268,140 Z" fill="#fff" stroke="#111" stroke-width="1.77" stroke-linejoin="round" stroke-linecap="round" />
<path d="M136,160 L136,210" fill="none" stroke="#111" stroke-width="1.53" stroke-linejoin="round" stroke-linecap="round" />
<path d="M152,166 L152,216" fill="none" stroke="#111" stroke-width="1.53" stroke-linejoin="round" stroke-linecap="round" />
<path d="M170,170 L170,220" fill="none" stroke="#111" stroke-width="1.53" stroke-linejoin="round" stroke-linecap="round" />
<path d="M190,172 L190,222" fill="none" stroke="#111" stroke-width="1.53" stroke-linejoin="round" stroke-linecap="round" />
<path d="M210,171 L210,221" fill="none" stroke="#111" stroke-width="1.53" stroke-linejoin="round" stroke-linecap="round" />
<path d="M228,168 L228,218" fill="none" stroke="#111" stroke-width="1.53" stroke-linejoin="round" stroke-linecap="round" />
<path d="M244,163 L244,213" fill="none" stroke="#111" stroke-width="1.53" stroke-linejoin="round" stroke-linecap="round" />
<path d="M258,156 L258,206" fill="none" stroke="#111" stroke-width="1.53" stroke-linejoin="round" stroke-linecap="round" />
<path d="M122,162 Q196,196 268,160" fill="none" stroke="#111" stroke-width="1.42" stroke-linejoin="round" stroke-linecap="round" />
<ellipse cx="195" cy="140" rx="73" ry="28" fill="#fff" stroke="#111" stroke-width="1.77" transform="rotate(0 195 140)"/>
<ellipse cx="195" cy="138" rx="58" ry="20" fill="#fff" stroke="#111" stroke-width="1.18" transform="rotate(0 195 138)"/>
</g>
<g transform="translate(295,80) scale(0.07055)">
<ellipse cx="265" cy="288" rx="80" ry="88" fill="#fff" stroke="#111" stroke-width="1.89" transform="rotate(0 265 288)"/>
<ellipse cx="240" cy="306" rx="40" ry="55" fill="#fff" stroke="#111" stroke-width="1.53" transform="rotate(-8 240 306)"/>
<path d="M290,236 Q304,290 298,346" fill="none" stroke="#111" stroke-width="1.42" stroke-linejoin="round" stroke-linecap="round" />
<path d="M200,216 L250,200 L262,242 L214,250 Z" fill="#fff" stroke="#111" stroke-width="1.65" stroke-linejoin="round" stroke-linecap="round" />
<path d="M262,196 L306,184 L302,238 L268,244 Z" fill="#fff" stroke="#111" stroke-width="1.65" stroke-linejoin="round" stroke-linecap="round" />
</g>
<line x1="313.8" y1="79.7" x2="313.8" y2="93.7" stroke="#111" stroke-width="1.30"/>
<path d="M324.2,97.5 L366,81.2 Q372,79 380,78.2 Q389,77.2 394,82 L423,109 Q427.5,113.3 433,111 L474.7,94.4" fill="none" stroke="#111" stroke-width="8.35" stroke-linejoin="round" stroke-linecap="butt"/>
<path d="M324.2,97.5 L366,81.2 Q372,79 380,78.2 Q389,77.2 394,82 L423,109 Q427.5,113.3 433,111 L474.7,94.4" fill="none" stroke="#fff" stroke-width="5.3" stroke-linejoin="round" stroke-linecap="butt"/>
<ellipse cx="323.8" cy="97.6" rx="2.2" ry="3.9" fill="#fff" stroke="#111" stroke-width="1.65" transform="rotate(-20 323.8 97.6)"/>
<ellipse cx="323.8" cy="97.6" rx="0.9" ry="2.1" fill="#fff" stroke="#111" stroke-width="1.53" transform="rotate(-20 323.8 97.6)"/>
<path d="M474,90.6 Q478.5,91 476,98" fill="none" stroke="#111" stroke-width="1.53" stroke-linejoin="round" stroke-linecap="round" />
<g transform="translate(465,70) scale(0.07055)">
<ellipse cx="280" cy="276" rx="80" ry="74" fill="#fff" stroke="#111" stroke-width="1.77" transform="rotate(0 280 276)"/>
<ellipse cx="262" cy="290" rx="33" ry="50" fill="#fff" stroke="#111" stroke-width="1.42" transform="rotate(-15 262 290)"/>
<path d="M186,210 L210,186 L236,206 L216,232 Z" fill="#fff" stroke="#111" stroke-width="1.77" stroke-linejoin="round" stroke-linecap="round" />
<path d="M260,182 L304,156 L310,196 L276,230 Z" fill="#fff" stroke="#111" stroke-width="1.77" stroke-linejoin="round" stroke-linecap="round" />
</g>
<line x1="486" y1="95" x2="486" y2="109" stroke="#111" stroke-width="1.30"/>
<line x1="422" y1="87.6" x2="422" y2="101.4" stroke="#111" stroke-width="1.30"/>
<line x1="382" y1="141.5" x2="382" y2="155" stroke="#111" stroke-width="1.30"/>
<g transform="translate(258,110) scale(0.16462)">
<path d="M96,118 L96,92 L120,82 L150,100 L163,95 L166,182 L136,192 L136,120 Z" fill="#fff" stroke="#111" stroke-width="1.77" stroke-linejoin="round" stroke-linecap="round" />
<path d="M150,100 L150,186" fill="none" stroke="#111" stroke-width="1.30" stroke-linejoin="round" stroke-linecap="round" />
<path d="M88,262 L104,244 L136,232 L196,252 L250,268 L330,230 L350,246 L362,238 L386,244 L397,264 L384,276 L372,258 L352,290 L300,326 L290,346 L206,386 L180,378 L160,354 L156,316 L88,284 Z" fill="#fff" stroke="#111" stroke-width="1.89" stroke-linejoin="round" stroke-linecap="round" />
<path d="M150,206 L262,256 M88,270 L160,304 L170,360 M250,268 L246,300" fill="none" stroke="#111" stroke-width="1.42" stroke-linejoin="round" stroke-linecap="round" />
<path d="M88,262 L88,206 M100,250 L100,196 M138,234 L138,192" fill="none" stroke="#111" stroke-width="1.65" stroke-linejoin="round" stroke-linecap="round" />
<path d="M68,126 L96,116 L100,118 L100,196 L70,208 Z" fill="#fff" stroke="#111" stroke-width="1.89" stroke-linejoin="round" stroke-linecap="round" />
<path d="M76,124 L78,204" fill="none" stroke="#111" stroke-width="1.18" stroke-linejoin="round" stroke-linecap="round" />
<ellipse cx="122" cy="240" rx="8" ry="8" fill="#fff" stroke="#111" stroke-width="1.42" transform="rotate(0 122 240)"/>
<ellipse cx="206" cy="288" rx="12" ry="12" fill="#fff" stroke="#111" stroke-width="1.42" transform="rotate(0 206 288)"/>
<ellipse cx="328" cy="282" rx="8" ry="11" fill="#fff" stroke="#111" stroke-width="1.53" transform="rotate(20 328 282)"/>
<path d="M246,266 L258,262 L258,296 L246,300 Z" fill="#222" stroke="#111" stroke-width="1.42" stroke-linejoin="round" stroke-linecap="round" />
<path d="M362,240 Q372,250 370,262" fill="none" stroke="#111" stroke-width="1.42" stroke-linejoin="round" stroke-linecap="round" />
</g>
<line x1="291.9" y1="173.6" x2="291.9" y2="188" stroke="#111" stroke-width="1.30"/>
<g transform="translate(330,130) scale(0.16462)">
<path d="M276,180 L326,150 L386,186 L386,240 L366,262 L362,340 L396,334 L398,350 L346,366 L264,346 Z" fill="#fff" stroke="#111" stroke-width="1.89" stroke-linejoin="round" stroke-linecap="round" />
<path d="M276,180 L300,196 L346,252 L346,366 M300,196 L340,170 M346,252 L386,200" fill="none" stroke="#111" stroke-width="1.42" stroke-linejoin="round" stroke-linecap="round" />
<path d="M382,176 L398,170 L402,186 L388,190" fill="#fff" stroke="#111" stroke-width="1.65" stroke-linejoin="round" stroke-linecap="round" />
<ellipse cx="342" cy="205" rx="8" ry="8" fill="#fff" stroke="#111" stroke-width="1.89" transform="rotate(0 342 205)"/>
<path d="M202,270 L254,243" fill="none" stroke="#111" stroke-width="1.30" stroke-linejoin="round" stroke-linecap="round" />
</g>
<g transform="translate(351.2,179.6) rotate(-26) scale(1.0)">
<path d="M-2.6,-4.4 L-9.6,-4.7 Q-12.4,-2.4 -12,0.6 Q-11.4,3.8 -9,4.8 L-2.4,4.4 Z" fill="#fff" stroke="#111" stroke-width="1.77" stroke-linejoin="round" stroke-linecap="round" />
<path d="M-9.8,-1.7 L-3.4,-1.4 M-9.6,2.0 L-3.3,2.1" fill="none" stroke="#111" stroke-width="1.18" stroke-linejoin="round" stroke-linecap="round" />
<ellipse cx="-9.9" cy="0.1" rx="1.7" ry="3.7" fill="#fff" stroke="#111" stroke-width="1.30" transform="rotate(0 -9.9 0.1)"/>
<ellipse cx="-1.7" cy="0" rx="2.7" ry="6.5" fill="#fff" stroke="#111" stroke-width="1.77" transform="rotate(0 -1.7 0)"/>
<ellipse cx="-0.2" cy="0" rx="2.7" ry="6.5" fill="#fff" stroke="#111" stroke-width="1.77" transform="rotate(0 -0.2 0)"/>
<ellipse cx="0.4" cy="0" rx="1.7" ry="4.3" fill="#fff" stroke="#111" stroke-width="1.53" transform="rotate(0 0.4 0)"/>
<path d="M0.8,-2.5 L11.5,-2.5 Q13.1,0 11.5,2.5 L0.8,2.5 Q-0.4,0 0.8,-2.5 Z" fill="#fff" stroke="#111" stroke-width="1.65" stroke-linejoin="round" stroke-linecap="round" />
<path d="M2.1,-2.7 Q3.6,0 2.1,2.7" fill="none" stroke="#111" stroke-width="1.77" stroke-linejoin="round" stroke-linecap="round" />
<path d="M4.125,-2.7 Q5.625,0 4.125,2.7" fill="none" stroke="#111" stroke-width="1.77" stroke-linejoin="round" stroke-linecap="round" />
<path d="M6.15,-2.7 Q7.65,0 6.15,2.7" fill="none" stroke="#111" stroke-width="1.77" stroke-linejoin="round" stroke-linecap="round" />
<path d="M8.174999999999999,-2.7 Q9.674999999999999,0 8.174999999999999,2.7" fill="none" stroke="#111" stroke-width="1.77" stroke-linejoin="round" stroke-linecap="round" />
<path d="M10.2,-2.7 Q11.7,0 10.2,2.7" fill="none" stroke="#111" stroke-width="1.77" stroke-linejoin="round" stroke-linecap="round" />
</g>
<line x1="347.8" y1="160.5" x2="347.8" y2="174" stroke="#111" stroke-width="1.30"/>
<path d="M466,187.8 L459,185.6 Q455,184.6 450,186.6 L441.5,191 Q438,193 436,196 L428,208" fill="none" stroke="#111" stroke-width="5.3500000000000005" stroke-linejoin="round" stroke-linecap="butt"/>
<path d="M466,187.8 L459,185.6 Q455,184.6 450,186.6 L441.5,191 Q438,193 436,196 L428,208" fill="none" stroke="#fff" stroke-width="2.6" stroke-linejoin="round" stroke-linecap="butt"/>
<path d="M429,206.5 L415.5,226.5 Q412.6,231 412.8,236 L413.5,250 Q416.5,262 413.7,268 Q411,272 405,273 L398.5,274.6 Q393,277 392.3,286" fill="none" stroke="#111" stroke-width="6.050000000000001" stroke-linejoin="round" stroke-linecap="butt"/>
<path d="M429,206.5 L415.5,226.5 Q412.6,231 412.8,236 L413.5,250 Q416.5,262 413.7,268 Q411,272 405,273 L398.5,274.6 Q393,277 392.3,286" fill="none" stroke="#fff" stroke-width="3.2" stroke-linejoin="round" stroke-linecap="butt"/>
<line x1="426.6" y1="206.4" x2="431.4" y2="209.8" stroke="#111" stroke-width="1.42"/>
<g transform="translate(470.6,189.6) rotate(24)">
<path d="M-5,-3.6 L1.5,-4 Q3.4,0 1.5,4 L-5,3.6 Q-6.6,0 -5,-3.6 Z" fill="#fff" stroke="#111" stroke-width="1.77" stroke-linejoin="round" stroke-linecap="round" />
<path d="M-3,-3.6 Q-1.6,0 -3,3.6 M-0.6,-1.6 L-0.6,1.6" fill="none" stroke="#111" stroke-width="1.30" stroke-linejoin="round" stroke-linecap="round" />
<path d="M1.8,-2.6 L6.4,-2.4 L6.4,2.4 L1.8,2.6 Z" fill="#fff" stroke="#111" stroke-width="1.53" stroke-linejoin="round" stroke-linecap="round" />
<path d="M3.3,-2.6 L3.3,2.6 M4.9,-2.6 L4.9,2.6" fill="none" stroke="#111" stroke-width="1.65" stroke-linejoin="round" stroke-linecap="round" />
</g>
<g transform="translate(392.6,291) rotate(98)">
<path d="M-5,-4 L0,-4.4 Q1.8,0 0,4.4 L-5,4 Q-6.6,0 -5,-4 Z" fill="#fff" stroke="#111" stroke-width="1.77" stroke-linejoin="round" stroke-linecap="round" />
<path d="M-3,-4 Q-1.8,0 -3,4" fill="none" stroke="#111" stroke-width="1.30" stroke-linejoin="round" stroke-linecap="round" />
<path d="M0.4,-2.6 L6.4,-2.4 L6.4,2.4 L0.4,2.6 Z" fill="#fff" stroke="#111" stroke-width="1.53" stroke-linejoin="round" stroke-linecap="round" />
<path d="M2.2,-2.6 L2.2,2.6 M3.8,-2.6 L3.8,2.6 M5.2,-2.6 L5.2,2.6" fill="none" stroke="#111" stroke-width="1.65" stroke-linejoin="round" stroke-linecap="round" />
</g>
<polyline points="361,268.6 388.6,306 391,297.6" fill="none" stroke="#111" stroke-width="1.30" stroke-linejoin="round" stroke-linecap="round"/>
<line x1="433.3" y1="178" x2="433.3" y2="196.4" stroke="#111" stroke-width="1.30"/>
<g transform="translate(400,175) scale(0.16462)">
<path d="M186,300 L214,272 L250,282 L262,270 L270,300 L300,340 L262,366 L228,356 L186,330 Z" fill="#fff" stroke="#111" stroke-width="1.89" stroke-linejoin="round" stroke-linecap="round" />
<path d="M214,272 L210,300 L186,320 M210,300 L240,310 L250,282 M240,310 L236,350 M262,300 L250,340 L270,350 L286,330 M196,328 L236,350" fill="none" stroke="#111" stroke-width="1.53" stroke-linejoin="round" stroke-linecap="round" />
<path d="M192,306 L206,310 L204,324 L190,320 Z" fill="#fff" stroke="#111" stroke-width="1.42" stroke-linejoin="round" stroke-linecap="round" />
<path d="M256,316 L272,330 L262,348 L250,338 Z" fill="#fff" stroke="#111" stroke-width="1.42" stroke-linejoin="round" stroke-linecap="round" />
</g>
<line x1="442.5" y1="235" x2="442.5" y2="250" stroke="#111" stroke-width="1.30"/>
<path d="M213,236 L230,240.4" fill="none" stroke="#111" stroke-width="3.75" stroke-linejoin="round" stroke-linecap="butt"/>
<path d="M213,236 L230,240.4" fill="none" stroke="#fff" stroke-width="1.0999999999999999" stroke-linejoin="round" stroke-linecap="butt"/>
<path d="M229.3,240 L266.8,252.6 Q272.5,254.8 275.2,258 Q278.2,262.6 275.6,267.4 L270.4,275.6 Q267.6,280.4 267.4,285 L267.6,293" fill="none" stroke="#111" stroke-width="5.75" stroke-linejoin="round" stroke-linecap="butt"/>
<path d="M229.3,240 L266.8,252.6 Q272.5,254.8 275.2,258 Q278.2,262.6 275.6,267.4 L270.4,275.6 Q267.6,280.4 267.4,285 L267.6,293" fill="none" stroke="#fff" stroke-width="2.8000000000000003" stroke-linejoin="round" stroke-linecap="butt"/>
<line x1="229.6" y1="237.4" x2="228.6" y2="242.6" stroke="#111" stroke-width="1.42"/>
<g transform="translate(210.6,234.8) rotate(20)">
<path d="M-3.4,-3.6 L3.4,-3.9 Q5,0 3.4,3.9 L-3.4,3.6 Q-5,0 -3.4,-3.6 Z" fill="#fff" stroke="#111" stroke-width="1.77" stroke-linejoin="round" stroke-linecap="round" />
<path d="M-1,-3.7 Q0.2,0 -1,3.7 M1.4,-3.8 Q2.6,0 1.4,3.8" fill="none" stroke="#111" stroke-width="1.30" stroke-linejoin="round" stroke-linecap="round" />
<path d="M-8,-2.3 L-3.8,-2.4 L-3.8,2.4 L-8,2.3 Z" fill="#fff" stroke="#111" stroke-width="1.53" stroke-linejoin="round" stroke-linecap="round" />
<path d="M-6.6,-2.4 L-6.6,2.4 M-5.2,-2.4 L-5.2,2.4" fill="none" stroke="#111" stroke-width="1.65" stroke-linejoin="round" stroke-linecap="round" />
</g>
<g transform="translate(268.9,296.6) rotate(93)">
<path d="M-4.4,-3.8 L0.6,-4.2 Q2.2,0 0.6,4.2 L-4.4,3.8 Q-6,0 -4.4,-3.8 Z" fill="#fff" stroke="#111" stroke-width="1.77" stroke-linejoin="round" stroke-linecap="round" />
<path d="M-2.4,-3.9 Q-1.2,0 -2.4,3.9" fill="none" stroke="#111" stroke-width="1.30" stroke-linejoin="round" stroke-linecap="round" />
<path d="M1,-2.6 L6,-2.4 L6,2.4 L1,2.6 Z" fill="#fff" stroke="#111" stroke-width="1.53" stroke-linejoin="round" stroke-linecap="round" />
<path d="M2.6,-2.6 L2.6,2.6 M4.2,-2.6 L4.2,2.6" fill="none" stroke="#111" stroke-width="1.65" stroke-linejoin="round" stroke-linecap="round" />
</g>
<line x1="256.1" y1="234.4" x2="256.1" y2="246" stroke="#111" stroke-width="1.30"/>
<g transform="translate(223,264.6)">
<ellipse cx="0" cy="3" rx="5.8" ry="3.2" fill="#fff" stroke="#111" stroke-width="1.77" transform="rotate(0 0 3)"/>
<path d="M-4.6,2.4 L-4.2,-3.6 Q0,-6.4 4.2,-3.6 L4.6,2.4 Q0,5 -4.6,2.4 Z" fill="#fff" stroke="#111" stroke-width="1.77" stroke-linejoin="round" stroke-linecap="round" />
<path d="M-1.6,-4.6 L-1.8,3.4 M2,-4.4 L2.2,3.2" fill="none" stroke="#111" stroke-width="1.18" stroke-linejoin="round" stroke-linecap="round" />
<ellipse cx="0" cy="-3.6" rx="2.6" ry="1.4" fill="#fff" stroke="#111" stroke-width="1.30" transform="rotate(0 0 -3.6)"/>
</g>
<line x1="207.2" y1="266.2" x2="217" y2="266.2" stroke="#111" stroke-width="1.30"/>
<polyline points="223.2,270.8 223.2,276.7 261.6,260.7 261.6,300" fill="none" stroke="#111" stroke-width="1.30" stroke-linejoin="round" stroke-linecap="round"/>
<g transform="translate(236,282) scale(0.16462)">
<path d="M58,150 L80,137 L118,150 L122,128 L150,118 L216,160 L220,186 L242,200 L300,240 L296,262 L206,300 L150,290 L118,268 L104,216 L60,176 Z" fill="#fff" stroke="#111" stroke-width="1.89" stroke-linejoin="round" stroke-linecap="round" />
<path d="M58,150 L104,192 L140,184 L218,162 M104,192 L106,216 M140,184 L140,240 L232,202 M140,240 L150,290 M140,240 L206,278 L298,242 M206,278 L206,300" fill="none" stroke="#111" stroke-width="1.42" stroke-linejoin="round" stroke-linecap="round" />
<path d="M190,228 L216,220 L234,240 L206,250 Z" fill="#fff" stroke="#111" stroke-width="1.65" stroke-linejoin="round" stroke-linecap="round" />
<path d="M198,232 L214,228 L224,240 L208,244 Z" fill="none" stroke="#111" stroke-width="1.18" stroke-linejoin="round" stroke-linecap="round" />
<ellipse cx="150" cy="155" rx="9" ry="6" fill="#fff" stroke="#111" stroke-width="1.53" transform="rotate(0 150 155)"/>
<path d="M20,218 L102,218" fill="none" stroke="#111" stroke-width="1.30" stroke-linejoin="round" stroke-linecap="round" />
<path d="M300,150 L340,134 L384,150 L380,162 L330,186 L316,182 Z" fill="#fff" stroke="#111" stroke-width="1.77" stroke-linejoin="round" stroke-linecap="round" />
<path d="M300,150 L330,166 L380,150 M330,166 L330,186" fill="none" stroke="#111" stroke-width="1.42" stroke-linejoin="round" stroke-linecap="round" />
<path d="M262,150 Q268,138 278,146 L300,158" fill="none" stroke="#111" stroke-width="1.65" stroke-linejoin="round" stroke-linecap="round" />
<path d="M318,140 L316,126 L326,124 L330,136 M344,136 L342,126 L352,128 L354,140" fill="none" stroke="#111" stroke-width="1.42" stroke-linejoin="round" stroke-linecap="round" />
<path d="M385,155 L465,155" fill="none" stroke="#111" stroke-width="1.30" stroke-linejoin="round" stroke-linecap="round" />
</g>
<line x1="261.6" y1="300" x2="261.6" y2="308.2" stroke="#111" stroke-width="1.30"/>
<g transform="translate(317.6,231.4) rotate(17) scale(1.0)">
<path d="M-2.6,-4.4 L-9.6,-4.7 Q-12.4,-2.4 -12,0.6 Q-11.4,3.8 -9,4.8 L-2.4,4.4 Z" fill="#fff" stroke="#111" stroke-width="1.77" stroke-linejoin="round" stroke-linecap="round" />
<path d="M-9.8,-1.7 L-3.4,-1.4 M-9.6,2.0 L-3.3,2.1" fill="none" stroke="#111" stroke-width="1.18" stroke-linejoin="round" stroke-linecap="round" />
<ellipse cx="-9.9" cy="0.1" rx="1.7" ry="3.7" fill="#fff" stroke="#111" stroke-width="1.30" transform="rotate(0 -9.9 0.1)"/>
<ellipse cx="-1.7" cy="0" rx="2.7" ry="6.5" fill="#fff" stroke="#111" stroke-width="1.77" transform="rotate(0 -1.7 0)"/>
<ellipse cx="-0.2" cy="0" rx="2.7" ry="6.5" fill="#fff" stroke="#111" stroke-width="1.77" transform="rotate(0 -0.2 0)"/>
<ellipse cx="0.4" cy="0" rx="1.7" ry="4.3" fill="#fff" stroke="#111" stroke-width="1.53" transform="rotate(0 0.4 0)"/>
<path d="M0.8,-2.5 L11.5,-2.5 Q13.1,0 11.5,2.5 L0.8,2.5 Q-0.4,0 0.8,-2.5 Z" fill="#fff" stroke="#111" stroke-width="1.65" stroke-linejoin="round" stroke-linecap="round" />
<path d="M2.1,-2.7 Q3.6,0 2.1,2.7" fill="none" stroke="#111" stroke-width="1.77" stroke-linejoin="round" stroke-linecap="round" />
<path d="M4.125,-2.7 Q5.625,0 4.125,2.7" fill="none" stroke="#111" stroke-width="1.77" stroke-linejoin="round" stroke-linecap="round" />
<path d="M6.15,-2.7 Q7.65,0 6.15,2.7" fill="none" stroke="#111" stroke-width="1.77" stroke-linejoin="round" stroke-linecap="round" />
<path d="M8.174999999999999,-2.7 Q9.674999999999999,0 8.174999999999999,2.7" fill="none" stroke="#111" stroke-width="1.77" stroke-linejoin="round" stroke-linecap="round" />
<path d="M10.2,-2.7 Q11.7,0 10.2,2.7" fill="none" stroke="#111" stroke-width="1.77" stroke-linejoin="round" stroke-linecap="round" />
</g>
<line x1="330.8" y1="235.4" x2="340.4" y2="240.2" stroke="#111" stroke-width="1.30"/>
<line x1="316.1" y1="238.8" x2="316.1" y2="252.6" stroke="#111" stroke-width="1.30"/>
<line x1="352.7" y1="237.8" x2="366.7" y2="237.8" stroke="#111" stroke-width="1.30"/>
<g transform="translate(325,225) scale(0.17647)">
<path d="M82,85 L124,50 Q140,40 154,54 L158,80 L160,120 L166,140 L150,156 L140,132 L222,320 L246,346 L240,366 L214,370 L125,320 L130,246 L82,176 Z" fill="#fff" stroke="#111" stroke-width="1.89" stroke-linejoin="round" stroke-linecap="round" />
<path d="M94,82 L214,336 M104,76 L222,322" fill="none" stroke="#111" stroke-width="1.65" stroke-linejoin="round" stroke-linecap="round" />
<path d="M124,50 L130,100 L140,132 M158,120 L140,132 M214,336 L246,346 M214,336 L214,370" fill="none" stroke="#111" stroke-width="1.42" stroke-linejoin="round" stroke-linecap="round" />
<ellipse cx="138" cy="58" rx="7" ry="7" fill="#fff" stroke="#111" stroke-width="1.65" transform="rotate(0 138 58)"/>
<ellipse cx="131" cy="102" rx="4" ry="6" fill="#fff" stroke="#111" stroke-width="1.42" transform="rotate(0 131 102)"/>
<ellipse cx="228" cy="352" rx="3" ry="3" fill="#fff" stroke="#111" stroke-width="1.18" transform="rotate(0 228 352)"/>
</g>
<path d="M274.2,356 Q274.6,361 276.6,366 Q280,375.6 290,379 Q300,382 312.4,377.6 Q323,373.6 331,366.6 Q340,358 345.6,348 Q350,339 352.6,327 L357.2,312" fill="none" stroke="#111" stroke-width="7.15" stroke-linejoin="round" stroke-linecap="butt"/>
<path d="M274.2,356 Q274.6,361 276.6,366 Q280,375.6 290,379 Q300,382 312.4,377.6 Q323,373.6 331,366.6 Q340,358 345.6,348 Q350,339 352.6,327 L357.2,312" fill="none" stroke="#fff" stroke-width="4.1000000000000005" stroke-linejoin="round" stroke-linecap="butt"/>
<g transform="translate(273.6,334.2) rotate(0)">
<path d="M-3.6,0.6 Q0,-1 3.6,0.6 L3.8,8 L-3.8,8 Z" fill="#fff" stroke="#111" stroke-width="1.65" stroke-linejoin="round" stroke-linecap="round" />
<path d="M-3.7,3.2 L3.7,3.2 M-3.7,5.6 L3.7,5.6" fill="none" stroke="#111" stroke-width="1.42" stroke-linejoin="round" stroke-linecap="round" />
<path d="M-6.2,8 Q0,6.2 6.2,8 L6.4,16.4 Q0,18.6 -6.4,16.4 Z" fill="#fff" stroke="#111" stroke-width="1.89" stroke-linejoin="round" stroke-linecap="round" />
<path d="M-2.4,7.4 L-2.4,17.4 M3,7.4 L3,17.4 M-6.3,12.95 Q0,15.149999999999999 6.3,12.95" fill="none" stroke="#111" stroke-width="1.30" stroke-linejoin="round" stroke-linecap="round" />
<path d="M-4.6,17.2 L-4.4,23.4 Q0,25.2 4.4,23.4 L4.6,17.2" fill="#fff" stroke="#111" stroke-width="1.65" stroke-linejoin="round" stroke-linecap="round" />
<path d="M-4.5,19.24 Q0,21.04 4.5,19.24 M-4.5,21.48 Q0,23.28 4.5,21.48" fill="none" stroke="#111" stroke-width="1.42" stroke-linejoin="round" stroke-linecap="round" />
</g>
<g transform="translate(358.6,292) rotate(6)">
<path d="M-3.6,0.6 Q0,-1 3.6,0.6 L3.8,7.6 L-3.8,7.6 Z" fill="#fff" stroke="#111" stroke-width="1.65" stroke-linejoin="round" stroke-linecap="round" />
<path d="M-3.7,3.04 L3.7,3.04 M-3.7,5.319999999999999 L3.7,5.319999999999999" fill="none" stroke="#111" stroke-width="1.42" stroke-linejoin="round" stroke-linecap="round" />
<path d="M-6.2,7.6 Q0,5.8 6.2,7.6 L6.4,12.0 Q0,14.2 -6.4,12.0 Z" fill="#fff" stroke="#111" stroke-width="1.89" stroke-linejoin="round" stroke-linecap="round" />
<path d="M-2.4,7.0 L-2.4,13.0 M3,7.0 L3,13.0 M-6.3,10.35 Q0,12.55 6.3,10.35" fill="none" stroke="#111" stroke-width="1.30" stroke-linejoin="round" stroke-linecap="round" />
<path d="M-4.6,12.799999999999999 L-4.4,20.4 Q0,22.2 4.4,20.4 L4.6,12.799999999999999" fill="#fff" stroke="#111" stroke-width="1.65" stroke-linejoin="round" stroke-linecap="round" />
<path d="M-4.5,15.33 Q0,17.13 4.5,15.33 M-4.5,18.06 Q0,19.86 4.5,18.06" fill="none" stroke="#111" stroke-width="1.42" stroke-linejoin="round" stroke-linecap="round" />
</g>
<line x1="341.5" y1="356.9" x2="358.8" y2="356.9" stroke="#111" stroke-width="1.30"/>
<g transform="translate(355,300) scale(0.10582)">
<path d="M106,176 L136,186 Q160,150 180,142 L246,130 L266,100 L360,150 L366,176 L346,200 L300,190 L276,186 Q252,206 236,226 L196,214 Q214,190 232,178 L270,162 L250,150 L186,158 Q166,170 150,190 Z" fill="#fff" stroke="#111" stroke-width="1.89" stroke-linejoin="round" stroke-linecap="round" />
<path d="M266,100 L250,150 M270,162 L330,182 L360,150 M330,182 L346,200 M196,214 L226,210 Q244,192 262,182" fill="none" stroke="#111" stroke-width="1.42" stroke-linejoin="round" stroke-linecap="round" />
<path d="M370,170 L495,170" fill="none" stroke="#111" stroke-width="1.30" stroke-linejoin="round" stroke-linecap="round" />
</g>
<g transform="translate(575,15) scale(0.16462)">
<path d="M298,80 L130,500 L230,520 L386,104 Z" fill="#fff" stroke="#111" stroke-width="1.89" stroke-linejoin="round" stroke-linecap="round" />
<ellipse cx="341" cy="90" rx="46" ry="17" fill="#fff" stroke="#111" stroke-width="1.77" transform="rotate(18 341 90)"/>
<path d="M330,236 L286,372 L344,384 L386,244 Z" fill="#fff" stroke="#111" stroke-width="1.77" stroke-linejoin="round" stroke-linecap="round" />
<path d="M330,196 L384,204 L384,244 L330,236 Z" fill="#fff" stroke="#111" stroke-width="1.77" stroke-linejoin="round" stroke-linecap="round" />
<path d="M346,208 L368,212 L368,230 L346,226 Z" fill="none" stroke="#111" stroke-width="1.42" stroke-linejoin="round" stroke-linecap="round" />
<path d="M330,112 Q312,128 320,158 Q330,186 352,192 L392,196 Q414,180 412,150 Q408,124 386,116 Z" fill="#fff" stroke="#111" stroke-width="1.89" stroke-linejoin="round" stroke-linecap="round" />
<ellipse cx="385" cy="155" rx="17" ry="26" fill="#fff" stroke="#111" stroke-width="2.12" transform="rotate(15 385 155)"/>
<ellipse cx="386" cy="156" rx="9" ry="16" fill="#fff" stroke="#111" stroke-width="1.42" transform="rotate(15 386 156)"/>
<ellipse cx="358" cy="128" rx="6" ry="6" fill="#fff" stroke="#111" stroke-width="1.53" transform="rotate(0 358 128)"/>
<ellipse cx="346" cy="160" rx="6" ry="6" fill="#fff" stroke="#111" stroke-width="1.53" transform="rotate(0 346 160)"/>
<ellipse cx="500" cy="210" rx="25" ry="31" fill="#fff" stroke="#111" stroke-width="2.36" transform="rotate(10 500 210)"/>
<ellipse cx="503" cy="211" rx="12" ry="17" fill="#fff" stroke="#111" stroke-width="1.77" transform="rotate(10 503 211)"/>
<path d="M410,170 L476,200 M526,226 L571,246" fill="none" stroke="#111" stroke-width="1.30" stroke-linejoin="round" stroke-linecap="round" />
<path d="M372,358 Q366,368 372,378 L440,392 Q448,382 442,370 Z" fill="#fff" stroke="#111" stroke-width="2.01" stroke-linejoin="round" stroke-linecap="round" />
<path d="M390,364 L388,380 M406,366 L404,384 M422,370 L420,388" fill="none" stroke="#111" stroke-width="1.53" stroke-linejoin="round" stroke-linecap="round" />
<path d="M446,380 L490,380" fill="none" stroke="#111" stroke-width="1.30" stroke-linejoin="round" stroke-linecap="round" />
</g>
<line x1="658.5" y1="24.5" x2="658.5" y2="44.6" stroke="#111" stroke-width="1.30"/>
<g transform="translate(560,70) scale(0.16462)">
<path d="M336,106 L318,162 L352,168 L412,104 Z" fill="#fff" stroke="#111" stroke-width="1.77" stroke-linejoin="round" stroke-linecap="round" />
<path d="M340,26 Q318,40 322,70 Q330,100 356,108 L408,110 Q432,96 430,66 Q426,40 404,30 Z" fill="#fff" stroke="#111" stroke-width="1.89" stroke-linejoin="round" stroke-linecap="round" />
<ellipse cx="400" cy="70" rx="17" ry="28" fill="#fff" stroke="#111" stroke-width="2.12" transform="rotate(12 400 70)"/>
<ellipse cx="401" cy="71" rx="9" ry="17" fill="#fff" stroke="#111" stroke-width="1.42" transform="rotate(12 401 71)"/>
<ellipse cx="372" cy="48" rx="6" ry="6" fill="#fff" stroke="#111" stroke-width="1.53" transform="rotate(0 372 48)"/>
<ellipse cx="366" cy="82" rx="6" ry="6" fill="#fff" stroke="#111" stroke-width="1.53" transform="rotate(0 366 82)"/>
</g>
<g transform="translate(582,76) scale(0.10582)">
<path d="M108,246 L94,290 L160,332 L240,352 L268,322 L250,286 Z" fill="#fff" stroke="#111" stroke-width="1.89" stroke-linejoin="round" stroke-linecap="round" />
<path d="M104,266 L170,302 L252,312" fill="none" stroke="#111" stroke-width="1.42" stroke-linejoin="round" stroke-linecap="round" />
<path d="M70,125 L88,100 L132,116 L205,93 L222,105 L226,120 L250,150 L262,200 L250,290 L110,250 L70,205 Z" fill="#fff" stroke="#111" stroke-width="1.89" stroke-linejoin="round" stroke-linecap="round" />
<path d="M70,125 L150,146 L246,150 L240,216 L150,184 L150,146 M132,116 L140,134 L222,108 M80,150 L100,190 L150,210 M96,170 Q110,176 112,190" fill="none" stroke="#111" stroke-width="1.42" stroke-linejoin="round" stroke-linecap="round" />
<path d="M270,186 L330,214 Q372,236 376,262 Q372,300 340,320 L262,310 L246,290 L254,240 Z" fill="#fff" stroke="#111" stroke-width="1.89" stroke-linejoin="round" stroke-linecap="round" />
<ellipse cx="310" cy="270" rx="14" ry="16" fill="#fff" stroke="#111" stroke-width="1.77" transform="rotate(0 310 270)"/>
<path d="M286,196 Q272,240 280,312" fill="none" stroke="#111" stroke-width="1.30" stroke-linejoin="round" stroke-linecap="round" />
<path d="M386,296 L415,300" fill="none" stroke="#111" stroke-width="1.30" stroke-linejoin="round" stroke-linecap="round" />
</g>
<g transform="translate(560,70) scale(0.16462)">
<ellipse cx="483" cy="110" rx="25" ry="31" fill="#fff" stroke="#111" stroke-width="2.36" transform="rotate(10 483 110)"/>
<ellipse cx="486" cy="111" rx="12" ry="17" fill="#fff" stroke="#111" stroke-width="1.77" transform="rotate(10 486 111)"/>
<path d="M430,86 L458,100" fill="none" stroke="#111" stroke-width="1.30" stroke-linejoin="round" stroke-linecap="round" />
</g>
<line x1="637.1" y1="93.5" x2="637.1" y2="113.6" stroke="#111" stroke-width="1.30"/>
<g transform="translate(655,5) scale(0.16462)">
<path d="M40,284 L86,306" fill="none" stroke="#111" stroke-width="1.30" stroke-linejoin="round" stroke-linecap="round" />
<path d="M96,292 Q80,306 86,330 L110,346 L130,300 Z" fill="#fff" stroke="#111" stroke-width="1.77" stroke-linejoin="round" stroke-linecap="round" />
<path d="M104,296 L94,336 M116,298 L104,342" fill="none" stroke="#111" stroke-width="2.12" stroke-linejoin="round" stroke-linecap="round" />
<path d="M138,300 L180,304 Q210,320 206,356 Q196,388 172,386 L132,368 Q116,336 138,300 Z" fill="#fff" stroke="#111" stroke-width="2.01" stroke-linejoin="round" stroke-linecap="round" />
<path d="M152,302 Q138,336 150,376" fill="none" stroke="#111" stroke-width="1.42" stroke-linejoin="round" stroke-linecap="round" />
<ellipse cx="172" cy="342" rx="13" ry="21" fill="#fff" stroke="#111" stroke-width="2.36" transform="rotate(12 172 342)"/>
<ellipse cx="173" cy="343" rx="5" ry="9" fill="#fff" stroke="#111" stroke-width="1.42" transform="rotate(12 173 343)"/>
<path d="M268,208 L312,204 Q342,214 338,242 Q330,268 306,268 L262,262 L264,250 L304,254 Q322,252 324,238 Q324,222 306,218 L270,222 Z" fill="#fff" stroke="#111" stroke-width="1.77" stroke-linejoin="round" stroke-linecap="round" />
<path d="M310,150 L310,204" fill="none" stroke="#111" stroke-width="1.30" stroke-linejoin="round" stroke-linecap="round" />
<path d="M336,190 L440,216 L436,276 L416,282 L416,228 L346,204 Z" fill="#fff" stroke="#111" stroke-width="1.77" stroke-linejoin="round" stroke-linecap="round" />
<path d="M372,254 L406,270 L382,342 L346,326 Z" fill="#fff" stroke="#111" stroke-width="1.77" stroke-linejoin="round" stroke-linecap="round" />
<path d="M320,324 L346,326 L382,342 L370,350 L330,336 Z" fill="#fff" stroke="#111" stroke-width="1.65" stroke-linejoin="round" stroke-linecap="round" />
<ellipse cx="391" cy="276" rx="5" ry="6" fill="#fff" stroke="#111" stroke-width="1.53" transform="rotate(0 391 276)"/>
<ellipse cx="371" cy="311" rx="5" ry="6" fill="#fff" stroke="#111" stroke-width="1.53" transform="rotate(0 371 311)"/>
<path d="M416,228 L406,270" fill="none" stroke="#111" stroke-width="1.42" stroke-linejoin="round" stroke-linecap="round" />
<path d="M424,308 L470,312 L470,332 L424,326 Q418,316 424,308 Z" fill="#fff" stroke="#111" stroke-width="1.65" stroke-linejoin="round" stroke-linecap="round" />
<path d="M436,310 L436,328 M448,311 L448,330 M460,312 L460,331" fill="none" stroke="#111" stroke-width="1.65" stroke-linejoin="round" stroke-linecap="round" />
<path d="M472,304 L494,308 Q504,320 496,336 L472,336 Q464,320 472,304 Z" fill="#fff" stroke="#111" stroke-width="1.89" stroke-linejoin="round" stroke-linecap="round" />
</g>
<line x1="683" y1="42" x2="683" y2="54.4" stroke="#111" stroke-width="1.30"/>
<g transform="translate(635,82) scale(0.10582)">
<path d="M166,204 L266,178 L282,238 L172,262 Q146,256 144,232 Q148,208 166,204 Z" fill="#fff" stroke="#111" stroke-width="2.01" stroke-linejoin="round" stroke-linecap="round" />
<ellipse cx="165" cy="233" rx="20" ry="28" fill="#fff" stroke="#111" stroke-width="1.89" transform="rotate(10 165 233)"/>
<ellipse cx="166" cy="234" rx="8" ry="12" fill="#fff" stroke="#111" stroke-width="1.42" transform="rotate(10 166 234)"/>
<path d="M96,270 L136,255" fill="none" stroke="#111" stroke-width="1.30" stroke-linejoin="round" stroke-linecap="round" />
<path d="M124,96 Q108,110 116,134 L132,150 L166,140 L150,86 Z" fill="#fff" stroke="#111" stroke-width="1.89" stroke-linejoin="round" stroke-linecap="round" />
<path d="M196,92 L290,104 L296,196 L210,176 Z" fill="#fff" stroke="#111" stroke-width="1.77" stroke-linejoin="round" stroke-linecap="round" />
<ellipse cx="168" cy="116" rx="17" ry="36" fill="#fff" stroke="#111" stroke-width="2.24" transform="rotate(-12 168 116)"/>
<ellipse cx="198" cy="126" rx="18" ry="42" fill="#fff" stroke="#111" stroke-width="2.24" transform="rotate(-12 198 126)"/>
<path d="M214,100 Q204,136 222,176 M236,104 Q228,140 244,182" fill="none" stroke="#111" stroke-width="1.53" stroke-linejoin="round" stroke-linecap="round" />
<path d="M272,100 L320,98 Q350,118 352,146 L344,184 L310,216 L272,202 Q254,150 272,100 Z" fill="#fff" stroke="#111" stroke-width="2.12" stroke-linejoin="round" stroke-linecap="round" />
<path d="M296,100 Q282,150 300,212 M324,102 Q336,150 322,204" fill="none" stroke="#111" stroke-width="1.53" stroke-linejoin="round" stroke-linecap="round" />
</g>
<g transform="translate(525,45) scale(0.16462)">
<path d="M96,140 Q110,120 132,110 Q180,96 226,64 Q280,84 326,100 Q318,124 300,136 Q262,164 236,180 Q210,190 190,184 Q140,172 110,156 Z" fill="#fff" stroke="#111" stroke-width="2.01" stroke-linejoin="round" stroke-linecap="round" />
<path d="M196,96 L240,90 L236,134 L186,136 Z" fill="none" stroke="#111" stroke-width="1.65" stroke-linejoin="round" stroke-linecap="round" />
<path d="M206,108 L226,104 L222,126 M212,118 L224,116" fill="none" stroke="#111" stroke-width="1.89" stroke-linejoin="round" stroke-linecap="round" />
<path d="M130,130 Q160,120 180,126 M250,110 Q280,106 300,118 M150,156 Q190,160 220,150 M240,150 Q262,146 280,132 M226,76 Q250,90 270,92" fill="none" stroke="#111" stroke-width="1.30" stroke-linejoin="round" stroke-linecap="round" />
</g>
<g transform="translate(595.2,120.7) rotate(20.3)">
<path d="M-3.6,29 L3.6,29 L3.6,58 L-3.6,58 Z" fill="#fff" stroke="#111" stroke-width="1.65" stroke-linejoin="round" stroke-linecap="round" />
<ellipse cx="0" cy="0.8" rx="5.6" ry="1.9" fill="#fff" stroke="#111" stroke-width="2.01" transform="rotate(0 0 0.8)"/>
<ellipse cx="0" cy="4.1" rx="5.6" ry="1.9" fill="#fff" stroke="#111" stroke-width="2.01" transform="rotate(0 0 4.1)"/>
<ellipse cx="0" cy="7.3999999999999995" rx="5.6" ry="1.9" fill="#fff" stroke="#111" stroke-width="2.01" transform="rotate(0 0 7.3999999999999995)"/>
<ellipse cx="0" cy="10.7" rx="5.6" ry="1.9" fill="#fff" stroke="#111" stroke-width="2.01" transform="rotate(0 0 10.7)"/>
<ellipse cx="0" cy="14.0" rx="5.6" ry="1.9" fill="#fff" stroke="#111" stroke-width="2.01" transform="rotate(0 0 14.0)"/>
<ellipse cx="0" cy="17.3" rx="5.6" ry="1.9" fill="#fff" stroke="#111" stroke-width="2.01" transform="rotate(0 0 17.3)"/>
<ellipse cx="0" cy="20.599999999999998" rx="5.6" ry="1.9" fill="#fff" stroke="#111" stroke-width="2.01" transform="rotate(0 0 20.599999999999998)"/>
<ellipse cx="0" cy="23.9" rx="5.6" ry="1.9" fill="#fff" stroke="#111" stroke-width="2.01" transform="rotate(0 0 23.9)"/>
<ellipse cx="0" cy="27.2" rx="5.6" ry="1.9" fill="#fff" stroke="#111" stroke-width="2.01" transform="rotate(0 0 27.2)"/>
<ellipse cx="0" cy="30.5" rx="5.6" ry="1.9" fill="#fff" stroke="#111" stroke-width="2.01" transform="rotate(0 0 30.5)"/>
<ellipse cx="0" cy="33.5" rx="4.2" ry="1.6" fill="#fff" stroke="#111" stroke-width="1.65" transform="rotate(0 0 33.5)"/>
<ellipse cx="0" cy="36" rx="4.6" ry="1.6" fill="#fff" stroke="#111" stroke-width="1.65" transform="rotate(0 0 36)"/>
<ellipse cx="0" cy="39.5" rx="5.8" ry="1.6" fill="#fff" stroke="#111" stroke-width="1.65" transform="rotate(0 0 39.5)"/>
<ellipse cx="0" cy="41.5" rx="5.8" ry="1.6" fill="#fff" stroke="#111" stroke-width="1.65" transform="rotate(0 0 41.5)"/>
<ellipse cx="0" cy="45" rx="4.2" ry="1.6" fill="#fff" stroke="#111" stroke-width="1.65" transform="rotate(0 0 45)"/>
<ellipse cx="0" cy="48" rx="4.8" ry="1.6" fill="#fff" stroke="#111" stroke-width="1.65" transform="rotate(0 0 48)"/>
<ellipse cx="0" cy="51" rx="4.8" ry="1.6" fill="#fff" stroke="#111" stroke-width="1.65" transform="rotate(0 0 51)"/>
<ellipse cx="0" cy="54" rx="4.6" ry="1.6" fill="#fff" stroke="#111" stroke-width="1.65" transform="rotate(0 0 54)"/>
<ellipse cx="0" cy="57" rx="4.6" ry="1.6" fill="#fff" stroke="#111" stroke-width="1.65" transform="rotate(0 0 57)"/>
</g>
<line x1="566.4" y1="150" x2="579.5" y2="150" stroke="#111" stroke-width="1.30"/>
<g transform="translate(530,168) scale(0.16462)">
<path d="M252,0 L250,30 Q280,56 318,40 L322,6" fill="#fff" stroke="#111" stroke-width="1.77" stroke-linejoin="round" stroke-linecap="round" />
<path d="M256,14 Q286,34 320,20" fill="none" stroke="#111" stroke-width="1.42" stroke-linejoin="round" stroke-linecap="round" />
<ellipse cx="255" cy="90" rx="53" ry="19" fill="#fff" stroke="#111" stroke-width="2.01" transform="rotate(20 255 90)"/>
<ellipse cx="255" cy="88" rx="34" ry="9" fill="#fff" stroke="#111" stroke-width="1.65" transform="rotate(20 255 88)"/>
<path d="M206,78 L206,86 Q250,124 302,108 L304,100" fill="none" stroke="#111" stroke-width="1.65" stroke-linejoin="round" stroke-linecap="round" />
<path d="M305,100 L355,100" fill="none" stroke="#111" stroke-width="1.30" stroke-linejoin="round" stroke-linecap="round" />
<ellipse cx="228" cy="158" rx="51" ry="19" fill="#fff" stroke="#111" stroke-width="2.01" transform="rotate(20 228 158)"/>
<ellipse cx="228" cy="156" rx="33" ry="9" fill="#fff" stroke="#111" stroke-width="1.65" transform="rotate(20 228 156)"/>
<path d="M180,146 L180,154 Q222,192 272,178 L276,170" fill="none" stroke="#111" stroke-width="1.65" stroke-linejoin="round" stroke-linecap="round" />
<path d="M258,176 L262,192 L276,188" fill="none" stroke="#111" stroke-width="1.65" stroke-linejoin="round" stroke-linecap="round" />
<path d="M110,147 L180,147" fill="none" stroke="#111" stroke-width="1.30" stroke-linejoin="round" stroke-linecap="round" />
<path d="M182,252 L140,352 L172,362 L208,262 Z" fill="#fff" stroke="#111" stroke-width="1.77" stroke-linejoin="round" stroke-linecap="round" />
<path d="M166,212 Q160,228 172,244 Q196,262 226,248 Q240,232 232,216 Q204,196 166,212 Z" fill="#fff" stroke="#111" stroke-width="1.89" stroke-linejoin="round" stroke-linecap="round" />
<path d="M166,222 Q196,244 234,228" fill="none" stroke="#111" stroke-width="1.42" stroke-linejoin="round" stroke-linecap="round" />
<path d="M190,322 L270,322" fill="none" stroke="#111" stroke-width="1.30" stroke-linejoin="round" stroke-linecap="round" />
</g>
<g transform="translate(500,225) scale(0.16462)">
<path d="M318,0 L282,92 Q296,106 320,100 L356,0 Z" fill="#fff" stroke="#111" stroke-width="1.77" stroke-linejoin="round" stroke-linecap="round" />
<path d="M306,36 L340,46 M300,50 L336,60 M295,63 L330,73 M290,76 L326,86 M286,88 L322,98" fill="none" stroke="#111" stroke-width="1.77" stroke-linejoin="round" stroke-linecap="round" />
<path d="M244,128 L286,124 L316,146 L310,176 L270,182 L240,160 Z" fill="#fff" stroke="#111" stroke-width="2.01" stroke-linejoin="round" stroke-linecap="round" />
<path d="M286,124 L282,156 L270,182 M282,156 L240,160" fill="none" stroke="#111" stroke-width="1.42" stroke-linejoin="round" stroke-linecap="round" />
<ellipse cx="262" cy="142" rx="12" ry="8" fill="#fff" stroke="#111" stroke-width="1.42" transform="rotate(20 262 142)"/>
<path d="M316,152 L400,152" fill="none" stroke="#111" stroke-width="1.30" stroke-linejoin="round" stroke-linecap="round" />
<path d="M204,204 L260,212 L300,226 L304,262 L290,300 L262,312 L258,340 L222,348 L186,326 L176,290 L184,232 Z" fill="#fff" stroke="#111" stroke-width="2.01" stroke-linejoin="round" stroke-linecap="round" />
<path d="M204,204 L196,240 L190,300 L212,326 M260,212 L246,250 L236,296 M196,240 L246,250 L300,262 M236,296 L262,312" fill="none" stroke="#111" stroke-width="1.53" stroke-linejoin="round" stroke-linecap="round" />
<ellipse cx="226" cy="316" rx="16" ry="17" fill="#fff" stroke="#111" stroke-width="2.12" transform="rotate(0 226 316)"/>
<ellipse cx="240" cy="318" rx="12" ry="14" fill="#fff" stroke="#111" stroke-width="1.65" transform="rotate(0 240 318)"/>
<path d="M262,312 L284,316 L284,330 L258,330" fill="#fff" stroke="#111" stroke-width="1.65" stroke-linejoin="round" stroke-linecap="round" />
<path d="M296,268 L385,268" fill="none" stroke="#111" stroke-width="1.30" stroke-linejoin="round" stroke-linecap="round" />
<path d="M36,176 L62,182 L52,200 L62,206 L44,262 M36,176 L44,196 L34,204 L14,262 M44,196 L52,200" fill="none" stroke="#111" stroke-width="1.77" stroke-linejoin="round" stroke-linecap="round" />
<path d="M42,85 L42,172" fill="none" stroke="#111" stroke-width="1.30" stroke-linejoin="round" stroke-linecap="round" />
</g>
<g transform="translate(550,275) scale(0.16462)">
<path d="M48,48 L124,70 L116,104 L44,80 Q34,62 48,48 Z" fill="#fff" stroke="#111" stroke-width="1.89" stroke-linejoin="round" stroke-linecap="round" />
<path d="M58,50 Q48,64 56,84" fill="none" stroke="#111" stroke-width="1.30" stroke-linejoin="round" stroke-linecap="round" />
<path d="M122,64 L154,66 Q170,80 166,106 Q158,132 140,136 L112,130 Q104,96 122,64 Z" fill="#fff" stroke="#111" stroke-width="2.01" stroke-linejoin="round" stroke-linecap="round" />
<path d="M132,66 Q116,98 124,134" fill="none" stroke="#111" stroke-width="1.42" stroke-linejoin="round" stroke-linecap="round" />
<path d="M68,92 L68,165" fill="none" stroke="#111" stroke-width="1.30" stroke-linejoin="round" stroke-linecap="round" />
</g>
<path d="M599.4,302.2 C597.9,301.5 596.9,301.9 595.0,300.0 C593.1,298.1 592.9,298.9 593.6,296.4 C594.3,293.9 593.9,294.2 597.0,292.6 C600.1,291.0 599.3,291.3 603.0,291.6 C606.7,291.9 605.5,290.9 608.0,293.4 C610.5,295.9 608.6,293.9 610.4,299.0 C612.2,304.1 610.5,303.3 613.4,308.8 C616.3,314.3 614.0,312.2 619.2,315.4 C624.4,318.6 620.7,318.1 629.0,318.4 C637.3,318.7 634.5,319.0 644.0,316.2 C653.5,313.4 649.7,313.2 657.4,310.0 C665.1,306.8 661.3,308.8 667.0,306.6 C672.7,304.4 670.9,306.4 674.6,303.4 C678.3,300.4 677.2,301.8 678.1,297.7 C679.0,293.6 678.6,295.7 677.3,291.1 C676.0,286.5 674.8,288.2 674.2,284.0 C673.6,279.8 673.8,282.1 675.6,278.6 C677.4,275.1 676.5,276.6 679.6,273.4 C682.7,270.2 680.5,271.3 685.0,269.0 C689.5,266.7 687.7,267.1 693.0,266.6 C698.3,266.1 696.3,266.9 701.0,267.6 C705.7,268.3 703.5,268.8 707.0,268.8 C710.5,268.8 707.8,270.1 711.4,267.6 C715.0,265.1 713.8,265.3 717.7,261.4 C721.6,257.5 719.2,259.1 723.0,256.0 C726.8,252.9 724.2,255.0 729.0,252.0 C733.8,249.0 728.8,252.5 737.4,247.0 C746.0,241.5 747.3,241.0 754.9,235.6 C762.5,230.2 757.4,234.9 760.2,230.9 C763.0,226.9 761.3,228.8 763.4,223.5 C765.5,218.2 762.7,224.3 766.6,215.0 C770.5,205.7 769.5,208.4 775.0,195.6 C780.5,182.8 779.5,184.5 783.0,176.6 C786.5,168.7 783.1,174.3 785.4,172.0 C787.7,169.7 785.8,170.9 790.0,169.6 C794.2,168.3 792.7,169.1 798.0,168.0 C803.3,166.9 803.3,166.9 806.0,166.4" fill="none" stroke="#111" stroke-width="5.3500000000000005" stroke-linejoin="round" stroke-linecap="butt"/>
<path d="M599.4,302.2 C597.9,301.5 596.9,301.9 595.0,300.0 C593.1,298.1 592.9,298.9 593.6,296.4 C594.3,293.9 593.9,294.2 597.0,292.6 C600.1,291.0 599.3,291.3 603.0,291.6 C606.7,291.9 605.5,290.9 608.0,293.4 C610.5,295.9 608.6,293.9 610.4,299.0 C612.2,304.1 610.5,303.3 613.4,308.8 C616.3,314.3 614.0,312.2 619.2,315.4 C624.4,318.6 620.7,318.1 629.0,318.4 C637.3,318.7 634.5,319.0 644.0,316.2 C653.5,313.4 649.7,313.2 657.4,310.0 C665.1,306.8 661.3,308.8 667.0,306.6 C672.7,304.4 670.9,306.4 674.6,303.4 C678.3,300.4 677.2,301.8 678.1,297.7 C679.0,293.6 678.6,295.7 677.3,291.1 C676.0,286.5 674.8,288.2 674.2,284.0 C673.6,279.8 673.8,282.1 675.6,278.6 C677.4,275.1 676.5,276.6 679.6,273.4 C682.7,270.2 680.5,271.3 685.0,269.0 C689.5,266.7 687.7,267.1 693.0,266.6 C698.3,266.1 696.3,266.9 701.0,267.6 C705.7,268.3 703.5,268.8 707.0,268.8 C710.5,268.8 707.8,270.1 711.4,267.6 C715.0,265.1 713.8,265.3 717.7,261.4 C721.6,257.5 719.2,259.1 723.0,256.0 C726.8,252.9 724.2,255.0 729.0,252.0 C733.8,249.0 728.8,252.5 737.4,247.0 C746.0,241.5 747.3,241.0 754.9,235.6 C762.5,230.2 757.4,234.9 760.2,230.9 C763.0,226.9 761.3,228.8 763.4,223.5 C765.5,218.2 762.7,224.3 766.6,215.0 C770.5,205.7 769.5,208.4 775.0,195.6 C780.5,182.8 779.5,184.5 783.0,176.6 C786.5,168.7 783.1,174.3 785.4,172.0 C787.7,169.7 785.8,170.9 790.0,169.6 C794.2,168.3 792.7,169.1 798.0,168.0 C803.3,166.9 803.3,166.9 806.0,166.4" fill="none" stroke="#fff" stroke-width="2.6" stroke-linejoin="round" stroke-linecap="butt"/>
<line x1="736.8" y1="224.4" x2="736.8" y2="243" stroke="#111" stroke-width="1.30"/>
<g transform="translate(602.6,301.4) rotate(24)">
<path d="M-4,-3.3 L2.6,-3.6 Q4,0 2.6,3.6 L-4,3.3 Q-5.4,0 -4,-3.3 Z" fill="#fff" stroke="#111" stroke-width="1.77" stroke-linejoin="round" stroke-linecap="round" />
<path d="M-1.6,-3.4 Q-0.6,0 -1.6,3.4 M0.8,-3.5 Q1.8,0 0.8,3.5" fill="none" stroke="#111" stroke-width="1.30" stroke-linejoin="round" stroke-linecap="round" />
<path d="M3,-2 L6,-1.8 L6,1.8 L3,2 Z" fill="#fff" stroke="#111" stroke-width="1.42" stroke-linejoin="round" stroke-linecap="round" />
</g>
<line x1="610.4" y1="303.4" x2="617.6" y2="307.8" stroke="#111" stroke-width="1.30"/>
<path d="M824.6,119.6 L829.6,121.4 Q834,123.4 833.8,128.6 L831.4,146 L828.4,157" fill="none" stroke="#111" stroke-width="5.15" stroke-linejoin="round" stroke-linecap="butt"/>
<path d="M824.6,119.6 L829.6,121.4 Q834,123.4 833.8,128.6 L831.4,146 L828.4,157" fill="none" stroke="#fff" stroke-width="2.5" stroke-linejoin="round" stroke-linecap="butt"/>
<g transform="translate(820.4,117.6) rotate(24)">
<path d="M-3.6,-3.5 L2.6,-3.8 Q4,0 2.6,3.8 L-3.6,3.5 Q-5,0 -3.6,-3.5 Z" fill="#fff" stroke="#111" stroke-width="1.77" stroke-linejoin="round" stroke-linecap="round" />
<path d="M-1,-3.6 Q0,0 -1,3.6" fill="none" stroke="#111" stroke-width="1.30" stroke-linejoin="round" stroke-linecap="round" />
<path d="M-7,-2.2 L-4,-2.3 L-4,2.3 L-7,2.2 Z" fill="#fff" stroke="#111" stroke-width="1.53" stroke-linejoin="round" stroke-linecap="round" />
<path d="M-5.6,-2.3 L-5.6,2.3" fill="none" stroke="#111" stroke-width="1.53" stroke-linejoin="round" stroke-linecap="round" />
</g>
<g transform="translate(770,105) scale(0.21164)">
<g transform="rotate(-22 187 265)">
<ellipse cx="202" cy="272" rx="88" ry="126" fill="#fff" stroke="#111" stroke-width="1.89" transform="rotate(0 202 272)"/>
<ellipse cx="187" cy="265" rx="86" ry="125" fill="#fff" stroke="#111" stroke-width="1.89" transform="rotate(0 187 265)"/>
</g>
<ellipse cx="120" cy="186" rx="11.5" ry="15" fill="#fff" stroke="#111" stroke-width="1.65" transform="rotate(-20 120 186)"/>
<ellipse cx="190" cy="186" rx="11.5" ry="15" fill="#fff" stroke="#111" stroke-width="1.65" transform="rotate(-20 190 186)"/>
<ellipse cx="236" cy="250" rx="11.5" ry="15" fill="#fff" stroke="#111" stroke-width="1.65" transform="rotate(-20 236 250)"/>
<ellipse cx="246" cy="344" rx="11.5" ry="15" fill="#fff" stroke="#111" stroke-width="1.65" transform="rotate(-20 246 344)"/>
<ellipse cx="166" cy="346" rx="11.5" ry="15" fill="#fff" stroke="#111" stroke-width="1.65" transform="rotate(-20 166 346)"/>
<ellipse cx="122" cy="282" rx="11.5" ry="15" fill="#fff" stroke="#111" stroke-width="1.65" transform="rotate(-20 122 282)"/>
<ellipse cx="140" cy="248" rx="15" ry="17" fill="#fff" stroke="#111" stroke-width="1.89" transform="rotate(-20 140 248)"/>
<ellipse cx="140" cy="248" rx="7" ry="8" fill="#fff" stroke="#111" stroke-width="1.53" transform="rotate(-20 140 248)"/>
</g>
<path d="M779.0,186.0 C780.3,182.9 780.9,181.3 783.0,176.6 C785.1,171.9 783.1,174.3 785.4,172.0 C787.7,169.7 785.8,170.9 790.0,169.6 C794.2,168.3 792.5,169.1 798.0,168.0 C803.5,166.9 803.6,166.9 806.4,166.4" fill="none" stroke="#111" stroke-width="5.3500000000000005" stroke-linejoin="round" stroke-linecap="butt"/>
<path d="M779.0,186.0 C780.3,182.9 780.9,181.3 783.0,176.6 C785.1,171.9 783.1,174.3 785.4,172.0 C787.7,169.7 785.8,170.9 790.0,169.6 C794.2,168.3 792.5,169.1 798.0,168.0 C803.5,166.9 803.6,166.9 806.4,166.4" fill="none" stroke="#fff" stroke-width="2.6" stroke-linejoin="round" stroke-linecap="butt"/>
<ellipse cx="807.2" cy="166.6" rx="2.2" ry="2.7" fill="#fff" stroke="#111" stroke-width="1.65" transform="rotate(0 807.2 166.6)"/>
<g transform="translate(653.0,176.4) rotate(195) scale(1.08)">
<path d="M-2.6,-4.4 L-9.6,-4.7 Q-12.4,-2.4 -12,0.6 Q-11.4,3.8 -9,4.8 L-2.4,4.4 Z" fill="#fff" stroke="#111" stroke-width="1.77" stroke-linejoin="round" stroke-linecap="round" />
<path d="M-9.8,-1.7 L-3.4,-1.4 M-9.6,2.0 L-3.3,2.1" fill="none" stroke="#111" stroke-width="1.18" stroke-linejoin="round" stroke-linecap="round" />
<ellipse cx="-9.9" cy="0.1" rx="1.7" ry="3.7" fill="#fff" stroke="#111" stroke-width="1.30" transform="rotate(0 -9.9 0.1)"/>
<ellipse cx="-1.7" cy="0" rx="2.7" ry="6.5" fill="#fff" stroke="#111" stroke-width="1.77" transform="rotate(0 -1.7 0)"/>
<ellipse cx="-0.2" cy="0" rx="2.7" ry="6.5" fill="#fff" stroke="#111" stroke-width="1.77" transform="rotate(0 -0.2 0)"/>
<ellipse cx="0.4" cy="0" rx="1.7" ry="4.3" fill="#fff" stroke="#111" stroke-width="1.53" transform="rotate(0 0.4 0)"/>
<path d="M0.8,-2.5 L14,-2.5 Q15.6,0 14,2.5 L0.8,2.5 Q-0.4,0 0.8,-2.5 Z" fill="#fff" stroke="#111" stroke-width="1.65" stroke-linejoin="round" stroke-linecap="round" />
<path d="M2.1,-2.7 Q3.6,0 2.1,2.7" fill="none" stroke="#111" stroke-width="1.77" stroke-linejoin="round" stroke-linecap="round" />
<path d="M4.220000000000001,-2.7 Q5.720000000000001,0 4.220000000000001,2.7" fill="none" stroke="#111" stroke-width="1.77" stroke-linejoin="round" stroke-linecap="round" />
<path d="M6.34,-2.7 Q7.84,0 6.34,2.7" fill="none" stroke="#111" stroke-width="1.77" stroke-linejoin="round" stroke-linecap="round" />
<path d="M8.459999999999999,-2.7 Q9.959999999999999,0 8.459999999999999,2.7" fill="none" stroke="#111" stroke-width="1.77" stroke-linejoin="round" stroke-linecap="round" />
<path d="M10.58,-2.7 Q12.08,0 10.58,2.7" fill="none" stroke="#111" stroke-width="1.77" stroke-linejoin="round" stroke-linecap="round" />
<path d="M12.7,-2.7 Q14.2,0 12.7,2.7" fill="none" stroke="#111" stroke-width="1.77" stroke-linejoin="round" stroke-linecap="round" />
</g>
<line x1="666.1" y1="179" x2="680.1" y2="179" stroke="#111" stroke-width="1.30"/>
<g transform="translate(612,278) scale(0.10582)">
<path d="M96,126 L150,102 L164,126 L164,236 L104,214 L96,190 L110,180 L96,160 Z" fill="#fff" stroke="#111" stroke-width="1.89" stroke-linejoin="round" stroke-linecap="round" />
<path d="M110,130 L150,118 L150,210 M110,180 L150,170 M120,140 L120,200" fill="none" stroke="#111" stroke-width="1.53" stroke-linejoin="round" stroke-linecap="round" />
<path d="M164,112 L214,94 L240,104 L246,166 L262,196 L242,250 L196,276 L164,260 Z" fill="#fff" stroke="#111" stroke-width="2.01" stroke-linejoin="round" stroke-linecap="round" />
<path d="M164,112 L190,130 L190,262 M190,130 L240,110 M196,276 L200,250" fill="none" stroke="#111" stroke-width="1.53" stroke-linejoin="round" stroke-linecap="round" />
<ellipse cx="216" cy="196" rx="24" ry="26" fill="#fff" stroke="#111" stroke-width="2.01" transform="rotate(0 216 196)"/>
<ellipse cx="220" cy="198" rx="9" ry="10" fill="#fff" stroke="#111" stroke-width="1.89" transform="rotate(0 220 198)"/>
</g>
<line x1="631.8" y1="274" x2="631.8" y2="288" stroke="#111" stroke-width="1.30"/>
<g transform="translate(670,295) scale(0.10582)">
<path d="M166,288 Q170,324 190,338 Q208,332 226,292 Z" fill="#fff" stroke="#111" stroke-width="2.01" stroke-linejoin="round" stroke-linecap="round" />
<path d="M184,296 Q188,316 196,326" fill="none" stroke="#111" stroke-width="1.42" stroke-linejoin="round" stroke-linecap="round" />
<path d="M118,216 L150,202 L216,238 L270,216 L296,236 L290,270 L240,292 L214,282 L126,256 Z" fill="#fff" stroke="#111" stroke-width="2.12" stroke-linejoin="round" stroke-linecap="round" />
<path d="M126,228 L214,256 L240,262 L292,240 M214,256 L214,282 M140,240 L206,262 L206,272" fill="none" stroke="#111" stroke-width="1.53" stroke-linejoin="round" stroke-linecap="round" />
<path d="M150,150 L210,120 L266,140 L266,214 L216,240 L150,214 Z" fill="#fff" stroke="#111" stroke-width="2.12" stroke-linejoin="round" stroke-linecap="round" />
<path d="M150,150 L214,170 L266,146 M214,170 L216,240" fill="none" stroke="#111" stroke-width="1.53" stroke-linejoin="round" stroke-linecap="round" />
<path d="M166,172 L200,182 L200,216 L166,206 Z" fill="none" stroke="#111" stroke-width="1.53" stroke-linejoin="round" stroke-linecap="round" />
<path d="M268,178 L405,178" fill="none" stroke="#111" stroke-width="1.30" stroke-linejoin="round" stroke-linecap="round" />
</g>
<g transform="translate(578,335) scale(0.16462)">
<path d="M346,40 Q366,26 390,44 Q398,60 394,74 L380,122 L340,152 L308,140 L322,108 Z" fill="#fff" stroke="#111" stroke-width="2.01" stroke-linejoin="round" stroke-linecap="round" />
<ellipse cx="375" cy="65" rx="5" ry="6" fill="#fff" stroke="#111" stroke-width="1.53" transform="rotate(0 375 65)"/>
<path d="M356,46 L330,112" fill="none" stroke="#111" stroke-width="1.30" stroke-linejoin="round" stroke-linecap="round" />
<path d="M196,120 L250,94 L326,110 L310,140 L340,152 L300,168 L214,140 Z" fill="#fff" stroke="#111" stroke-width="2.01" stroke-linejoin="round" stroke-linecap="round" />
<path d="M214,140 L226,116 L310,140" fill="none" stroke="#111" stroke-width="1.42" stroke-linejoin="round" stroke-linecap="round" />
<path d="M30,250 Q34,228 52,224 L86,214 L130,230 L160,210 L166,204 L250,250 L310,270 L226,300 L216,326 L150,300 L120,290 L106,274 L52,286 Q32,280 30,250 Z" fill="#fff" stroke="#111" stroke-width="2.01" stroke-linejoin="round" stroke-linecap="round" />
<ellipse cx="60" cy="255" rx="9" ry="10" fill="#fff" stroke="#111" stroke-width="1.77" transform="rotate(0 60 255)"/>
<path d="M130,230 L126,286 M226,300 L240,262" fill="none" stroke="#111" stroke-width="1.42" stroke-linejoin="round" stroke-linecap="round" />
<path d="M176,150 L204,130 L216,140 L300,170 L300,206 L330,250 L310,270 L250,250 L166,204 Z" fill="#fff" stroke="#111" stroke-width="2.01" stroke-linejoin="round" stroke-linecap="round" />
<path d="M186,160 L270,190 L266,236 M186,160 L172,200 M270,190 L300,170" fill="none" stroke="#111" stroke-width="1.53" stroke-linejoin="round" stroke-linecap="round" />
<path d="M312,192 Q338,190 340,214 Q338,240 322,246" fill="#fff" stroke="#111" stroke-width="1.77" stroke-linejoin="round" stroke-linecap="round" />
<ellipse cx="236" cy="250" rx="8" ry="9" fill="#fff" stroke="#111" stroke-width="1.65" transform="rotate(0 236 250)"/>
<ellipse cx="204" cy="232" rx="4" ry="6" fill="#fff" stroke="#111" stroke-width="1.42" transform="rotate(0 204 232)"/>
<path d="M150,300 L216,326 L226,346 L226,400 L196,420 L152,416 L146,380 Z" fill="#fff" stroke="#111" stroke-width="2.01" stroke-linejoin="round" stroke-linecap="round" />
<path d="M150,300 L160,340 L226,362 M160,340 L150,390" fill="none" stroke="#111" stroke-width="1.42" stroke-linejoin="round" stroke-linecap="round" />
<ellipse cx="180" cy="390" rx="7" ry="9" fill="#fff" stroke="#111" stroke-width="1.77" transform="rotate(20 180 390)"/>
<path d="M245,255 L320,290" fill="none" stroke="#111" stroke-width="1.30" stroke-linejoin="round" stroke-linecap="round" />
<path d="M346,260 L396,206 L440,190 L470,210 L510,256 L520,336 L480,386 L420,390 L346,356 Z" fill="#fff" stroke="#111" stroke-width="2.01" stroke-linejoin="round" stroke-linecap="round" />
<path d="M346,300 L396,246 L396,206 M346,320 L360,330 L420,390" fill="none" stroke="#111" stroke-width="1.42" stroke-linejoin="round" stroke-linecap="round" />
<path d="M428,196 L372,340 L388,348 L446,200" fill="#fff" stroke="#111" stroke-width="1.65" stroke-linejoin="round" stroke-linecap="round" />
<ellipse cx="406" cy="210" rx="8" ry="9" fill="#fff" stroke="#111" stroke-width="2.24" transform="rotate(0 406 210)"/>
<ellipse cx="470" cy="216" rx="9" ry="10" fill="#fff" stroke="#111" stroke-width="2.24" transform="rotate(0 470 216)"/>
<ellipse cx="400" cy="350" rx="10" ry="11" fill="#fff" stroke="#111" stroke-width="2.24" transform="rotate(0 400 350)"/>
<ellipse cx="505" cy="345" rx="10" ry="11" fill="#fff" stroke="#111" stroke-width="2.24" transform="rotate(0 505 345)"/>
<ellipse cx="355" cy="312" rx="6" ry="8" fill="#fff" stroke="#111" stroke-width="1.53" transform="rotate(0 355 312)"/>
<ellipse cx="357" cy="338" rx="6" ry="8" fill="#fff" stroke="#111" stroke-width="1.53" transform="rotate(0 357 338)"/>
<path d="M385,118 L495,118" fill="none" stroke="#111" stroke-width="1.30" stroke-linejoin="round" stroke-linecap="round" />
</g>
<line x1="664.4" y1="382.7" x2="682.8" y2="382.7" stroke="#111" stroke-width="1.30"/>
<g transform="translate(616.6,334.8) rotate(19.5) scale(1.0)">
<path d="M-2.6,-4.4 L-9.6,-4.7 Q-12.4,-2.4 -12,0.6 Q-11.4,3.8 -9,4.8 L-2.4,4.4 Z" fill="#fff" stroke="#111" stroke-width="1.77" stroke-linejoin="round" stroke-linecap="round" />
<path d="M-9.8,-1.7 L-3.4,-1.4 M-9.6,2.0 L-3.3,2.1" fill="none" stroke="#111" stroke-width="1.18" stroke-linejoin="round" stroke-linecap="round" />
<ellipse cx="-9.9" cy="0.1" rx="1.7" ry="3.7" fill="#fff" stroke="#111" stroke-width="1.30" transform="rotate(0 -9.9 0.1)"/>
<ellipse cx="-1.7" cy="0" rx="2.7" ry="6.5" fill="#fff" stroke="#111" stroke-width="1.77" transform="rotate(0 -1.7 0)"/>
<ellipse cx="-0.2" cy="0" rx="2.7" ry="6.5" fill="#fff" stroke="#111" stroke-width="1.77" transform="rotate(0 -0.2 0)"/>
<ellipse cx="0.4" cy="0" rx="1.7" ry="4.3" fill="#fff" stroke="#111" stroke-width="1.53" transform="rotate(0 0.4 0)"/>
<path d="M0.8,-2.5 L11.5,-2.5 Q13.1,0 11.5,2.5 L0.8,2.5 Q-0.4,0 0.8,-2.5 Z" fill="#fff" stroke="#111" stroke-width="1.65" stroke-linejoin="round" stroke-linecap="round" />
<path d="M2.1,-2.7 Q3.6,0 2.1,2.7" fill="none" stroke="#111" stroke-width="1.77" stroke-linejoin="round" stroke-linecap="round" />
<path d="M4.125,-2.7 Q5.625,0 4.125,2.7" fill="none" stroke="#111" stroke-width="1.77" stroke-linejoin="round" stroke-linecap="round" />
<path d="M6.15,-2.7 Q7.65,0 6.15,2.7" fill="none" stroke="#111" stroke-width="1.77" stroke-linejoin="round" stroke-linecap="round" />
<path d="M8.174999999999999,-2.7 Q9.674999999999999,0 8.174999999999999,2.7" fill="none" stroke="#111" stroke-width="1.77" stroke-linejoin="round" stroke-linecap="round" />
<path d="M10.2,-2.7 Q11.7,0 10.2,2.7" fill="none" stroke="#111" stroke-width="1.77" stroke-linejoin="round" stroke-linecap="round" />
</g>
<line x1="621.2" y1="330.6" x2="639.9" y2="330.6" stroke="#111" stroke-width="1.30"/>
<g transform="translate(579.4,357.8) rotate(16) scale(1.0)">
<path d="M-2.6,-4.4 L-9.6,-4.7 Q-12.4,-2.4 -12,0.6 Q-11.4,3.8 -9,4.8 L-2.4,4.4 Z" fill="#fff" stroke="#111" stroke-width="1.77" stroke-linejoin="round" stroke-linecap="round" />
<path d="M-9.8,-1.7 L-3.4,-1.4 M-9.6,2.0 L-3.3,2.1" fill="none" stroke="#111" stroke-width="1.18" stroke-linejoin="round" stroke-linecap="round" />
<ellipse cx="-9.9" cy="0.1" rx="1.7" ry="3.7" fill="#fff" stroke="#111" stroke-width="1.30" transform="rotate(0 -9.9 0.1)"/>
<ellipse cx="-1.7" cy="0" rx="2.7" ry="6.5" fill="#fff" stroke="#111" stroke-width="1.77" transform="rotate(0 -1.7 0)"/>
<ellipse cx="-0.2" cy="0" rx="2.7" ry="6.5" fill="#fff" stroke="#111" stroke-width="1.77" transform="rotate(0 -0.2 0)"/>
<ellipse cx="0.4" cy="0" rx="1.7" ry="4.3" fill="#fff" stroke="#111" stroke-width="1.53" transform="rotate(0 0.4 0)"/>
<path d="M0.8,-2.5 L9.6,-2.5 Q11.2,0 9.6,2.5 L0.8,2.5 Q-0.4,0 0.8,-2.5 Z" fill="#fff" stroke="#111" stroke-width="1.65" stroke-linejoin="round" stroke-linecap="round" />
<path d="M2.1,-2.7 Q3.6,0 2.1,2.7" fill="none" stroke="#111" stroke-width="1.77" stroke-linejoin="round" stroke-linecap="round" />
<path d="M3.6500000000000004,-2.7 Q5.15,0 3.6500000000000004,2.7" fill="none" stroke="#111" stroke-width="1.77" stroke-linejoin="round" stroke-linecap="round" />
<path d="M5.199999999999999,-2.7 Q6.699999999999999,0 5.199999999999999,2.7" fill="none" stroke="#111" stroke-width="1.77" stroke-linejoin="round" stroke-linecap="round" />
<path d="M6.75,-2.7 Q8.25,0 6.75,2.7" fill="none" stroke="#111" stroke-width="1.77" stroke-linejoin="round" stroke-linecap="round" />
<path d="M8.299999999999999,-2.7 Q9.799999999999999,0 8.299999999999999,2.7" fill="none" stroke="#111" stroke-width="1.77" stroke-linejoin="round" stroke-linecap="round" />
</g>
<line x1="561.1" y1="361.6" x2="571" y2="361.6" stroke="#111" stroke-width="1.30"/>
<g transform="translate(570.2,384.0) rotate(17) scale(1.0)">
<path d="M-2.6,-4.4 L-9.6,-4.7 Q-12.4,-2.4 -12,0.6 Q-11.4,3.8 -9,4.8 L-2.4,4.4 Z" fill="#fff" stroke="#111" stroke-width="1.77" stroke-linejoin="round" stroke-linecap="round" />
<path d="M-9.8,-1.7 L-3.4,-1.4 M-9.6,2.0 L-3.3,2.1" fill="none" stroke="#111" stroke-width="1.18" stroke-linejoin="round" stroke-linecap="round" />
<ellipse cx="-9.9" cy="0.1" rx="1.7" ry="3.7" fill="#fff" stroke="#111" stroke-width="1.30" transform="rotate(0 -9.9 0.1)"/>
<ellipse cx="-1.7" cy="0" rx="2.7" ry="6.5" fill="#fff" stroke="#111" stroke-width="1.77" transform="rotate(0 -1.7 0)"/>
<ellipse cx="-0.2" cy="0" rx="2.7" ry="6.5" fill="#fff" stroke="#111" stroke-width="1.77" transform="rotate(0 -0.2 0)"/>
<ellipse cx="0.4" cy="0" rx="1.7" ry="4.3" fill="#fff" stroke="#111" stroke-width="1.53" transform="rotate(0 0.4 0)"/>
<path d="M0.8,-2.5 L10.5,-2.5 Q12.1,0 10.5,2.5 L0.8,2.5 Q-0.4,0 0.8,-2.5 Z" fill="#fff" stroke="#111" stroke-width="1.65" stroke-linejoin="round" stroke-linecap="round" />
<path d="M2.1,-2.7 Q3.6,0 2.1,2.7" fill="none" stroke="#111" stroke-width="1.77" stroke-linejoin="round" stroke-linecap="round" />
<path d="M3.875,-2.7 Q5.375,0 3.875,2.7" fill="none" stroke="#111" stroke-width="1.77" stroke-linejoin="round" stroke-linecap="round" />
<path d="M5.65,-2.7 Q7.15,0 5.65,2.7" fill="none" stroke="#111" stroke-width="1.77" stroke-linejoin="round" stroke-linecap="round" />
<path d="M7.424999999999999,-2.7 Q8.924999999999999,0 7.424999999999999,2.7" fill="none" stroke="#111" stroke-width="1.77" stroke-linejoin="round" stroke-linecap="round" />
<path d="M9.2,-2.7 Q10.7,0 9.2,2.7" fill="none" stroke="#111" stroke-width="1.77" stroke-linejoin="round" stroke-linecap="round" />
</g>
<line x1="546.2" y1="383.6" x2="557.6" y2="383.6" stroke="#111" stroke-width="1.30"/>
<g filter="url(#nf)">
<text x="118" y="33.5" font-size="14" >35</text>
<text x="48.5" y="68.8" font-size="14" >13</text>
<text x="122" y="74.3" font-size="14" >22</text>
<text x="187" y="63" font-size="14" >12</text>
<text x="146.2" y="94.5" font-size="14" >16</text>
<text x="62" y="136" font-size="14" >1</text>
<text x="73" y="160" font-size="14" >2</text>
<text x="126" y="165" font-size="14" >14</text>
<text x="163.6" y="180.6" font-size="14" >15</text>
<text x="214" y="196" font-size="14" >21</text>
<text x="243" y="103" font-size="14" >38</text>
<text x="277" y="55" font-size="14" >25</text>
<text x="307" y="76" font-size="14" >30</text>
<text x="415" y="80" font-size="14" >29</text>
<text x="478" y="124" font-size="14" >30</text>
<text x="374" y="137" font-size="14" >47</text>
<text x="341" y="157" font-size="14" >38</text>
<text x="284.4" y="202.4" font-size="14" >26</text>
<text x="425.4" y="174.3" font-size="14" >31</text>
<text x="249" y="230" font-size="14" >28</text>
<text x="310" y="268" font-size="14" >38</text>
<text x="371" y="243" font-size="14" >34</text>
<text x="439" y="266" font-size="14" >6</text>
<text x="188" y="271" font-size="14" >40</text>
<text x="317" y="313" font-size="14" >36</text>
<text x="412" y="324" font-size="14" >36</text>
<text x="222" y="323" font-size="14" >27</text>
<text x="363" y="363" font-size="14" >23</text>
<text x="39" y="254" font-size="14" >43</text>
<text x="98" y="265" font-size="14" >1</text>
<text x="118" y="270" font-size="14" >2</text>
<text x="96.6" y="302.4" font-size="14" >44</text>
<text x="136.8" y="307.4" font-size="14" >15</text>
<text x="173.4" y="316.6" font-size="14" >45</text>
<text x="65" y="360" font-size="14" >22</text>
<text x="84.5" y="385" font-size="14" >13</text>
<text x="110" y="379" font-size="14" >16</text>
<text x="207" y="390.6" font-size="14" >46</text>
<text x="651.4" y="22.7" font-size="14" >19</text>
<text x="676" y="38.3" font-size="14" >17</text>
<text x="699.5" y="25.8" font-size="14" >18</text>
<text x="759" y="52" font-size="14" >42</text>
<text x="659" y="84" font-size="14" >13</text>
<text x="629.4" y="127.2" font-size="14" >19</text>
<text x="549.4" y="156.2" font-size="14" >11</text>
<text x="593" y="189.6" font-size="14" >10</text>
<text x="537" y="197" font-size="14" >4</text>
<text x="496.4" y="198" font-size="14" >9</text>
<text x="579" y="226" font-size="14" >20</text>
<text x="503.6" y="234.2" font-size="14" >7</text>
<text x="570" y="254.5" font-size="14" >39</text>
<text x="567.3" y="273.8" font-size="14" >3</text>
<text x="557.6" y="316.8" font-size="14" >8</text>
<text x="684" y="184" font-size="14" >37</text>
<text x="729" y="220" font-size="14" >24</text>
<text x="627" y="270" font-size="14" >6</text>
<text x="717.4" y="318.6" font-size="14" >5</text>
<text x="644" y="336" font-size="14" >38</text>
<text x="662" y="359" font-size="14" >33</text>
<text x="542.2" y="367.2" font-size="14" >41</text>
<text x="527" y="389.2" font-size="14" >38</text>
<text x="686" y="388" font-size="14" >32</text>
<text x="734.4" y="394.8" font-size="10.5" textLength="63.4" lengthAdjust="spacingAndGlyphs">SWAEB2322C</text>
</g>
</svg>
</body></html>
